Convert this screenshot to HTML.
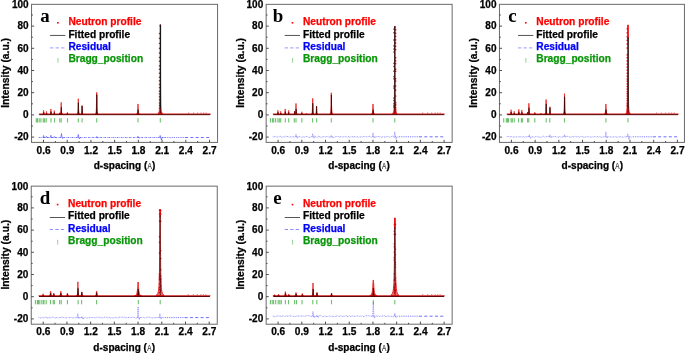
<!DOCTYPE html>
<html><head><meta charset="utf-8"><title>Neutron diffraction profiles</title>
<style>
html,body{margin:0;padding:0;background:#fff;}
body{width:685px;height:353px;overflow:hidden;font-family:"Liberation Sans",sans-serif;}
svg{display:block;will-change:transform;}
.t{font-family:"Liberation Sans",sans-serif;font-weight:bold;stroke-width:0.25px;}

</style></head><body>
<svg width="685" height="353" viewBox="0 0 685 353">
<rect width="685" height="353" fill="#fff"/>
<g transform="translate(0,0)">
<g transform="translate(0,0)">
<polygon points="42.83,114.10 42.88,114.06 42.97,113.99 43.05,113.89 43.12,113.76 43.18,113.62 43.23,113.45 43.27,113.27 43.31,113.08 43.34,112.86 43.37,112.64 43.40,112.39 43.42,112.14 43.44,111.87 43.47,111.59 43.49,111.30 43.51,110.99 43.54,110.68 43.60,110.35 43.60,110.35 43.66,110.68 43.69,110.99 43.71,111.30 43.73,111.59 43.76,111.87 43.78,112.14 43.80,112.39 43.83,112.64 43.86,112.86 43.89,113.08 43.93,113.27 43.97,113.45 44.02,113.62 44.08,113.76 44.15,113.89 44.23,113.99 44.32,114.06 44.37,114.10" fill="#e60000" stroke="#e60000" stroke-width="0.9" stroke-linejoin="round" opacity="0.85"/>
<polygon points="43.46,114.10 43.47,114.08 43.48,114.05 43.50,114.00 43.52,113.94 43.54,113.87 43.56,113.80 43.57,113.71 43.59,113.62 43.60,113.52 43.61,113.42 43.62,113.30 43.64,113.19 43.65,113.06 43.66,112.93 43.67,112.79 43.68,112.65 43.69,112.50 43.72,112.35 43.72,112.35 43.75,112.50 43.76,112.65 43.77,112.79 43.78,112.93 43.79,113.06 43.80,113.19 43.82,113.30 43.83,113.42 43.84,113.52 43.85,113.62 43.87,113.71 43.88,113.80 43.90,113.87 43.92,113.94 43.94,114.00 43.96,114.05 43.97,114.08 43.98,114.10" fill="#200000" stroke="#200000" stroke-width="0.62" stroke-linejoin="round"/>
<polygon points="45.85,114.10 45.88,114.07 45.94,114.02 46.00,113.95 46.06,113.86 46.10,113.76 46.15,113.64 46.19,113.52 46.22,113.38 46.25,113.23 46.28,113.07 46.30,112.89 46.32,112.71 46.35,112.53 46.37,112.33 46.39,112.12 46.41,111.91 46.44,111.68 46.50,111.45 46.50,111.45 46.56,111.68 46.59,111.91 46.61,112.12 46.63,112.33 46.65,112.53 46.68,112.71 46.70,112.89 46.72,113.07 46.75,113.23 46.78,113.38 46.81,113.52 46.85,113.64 46.90,113.76 46.94,113.86 47.00,113.95 47.06,114.02 47.12,114.07 47.15,114.10" fill="#e60000" stroke="#e60000" stroke-width="0.9" stroke-linejoin="round" opacity="0.85"/>
<polygon points="46.43,114.10 46.43,114.09 46.44,114.07 46.45,114.05 46.46,114.02 46.47,113.98 46.48,113.94 46.49,113.90 46.50,113.85 46.51,113.80 46.52,113.74 46.53,113.69 46.54,113.62 46.55,113.56 46.56,113.49 46.57,113.42 46.58,113.35 46.59,113.27 46.62,113.19 46.62,113.19 46.65,113.27 46.66,113.35 46.67,113.42 46.68,113.49 46.69,113.56 46.70,113.62 46.71,113.69 46.72,113.74 46.73,113.80 46.74,113.85 46.75,113.90 46.76,113.94 46.77,113.98 46.78,114.02 46.79,114.05 46.80,114.07 46.81,114.09 46.81,114.10" fill="#200000" stroke="#200000" stroke-width="0.62" stroke-linejoin="round"/>
<polygon points="49.99,114.10 50.08,114.05 50.20,113.95 50.30,113.81 50.39,113.64 50.46,113.44 50.51,113.21 50.56,112.96 50.60,112.69 50.63,112.40 50.66,112.09 50.69,111.76 50.72,111.41 50.74,111.04 50.76,110.66 50.79,110.25 50.81,109.83 50.84,109.40 50.90,108.95 50.90,108.95 50.96,109.40 50.99,109.83 51.01,110.25 51.04,110.66 51.06,111.04 51.08,111.41 51.11,111.76 51.14,112.09 51.17,112.40 51.20,112.69 51.24,112.96 51.29,113.21 51.34,113.44 51.41,113.64 51.50,113.81 51.60,113.95 51.72,114.05 51.81,114.10" fill="#e60000" stroke="#e60000" stroke-width="0.9" stroke-linejoin="round" opacity="0.85"/>
<polygon points="50.71,114.10 50.72,114.08 50.75,114.03 50.78,113.96 50.80,113.88 50.83,113.78 50.85,113.68 50.86,113.56 50.88,113.43 50.90,113.29 50.91,113.14 50.92,112.99 50.93,112.82 50.94,112.64 50.95,112.46 50.97,112.27 50.98,112.07 50.99,111.86 51.02,111.65 51.02,111.65 51.05,111.86 51.06,112.07 51.07,112.27 51.09,112.46 51.10,112.64 51.11,112.82 51.12,112.99 51.13,113.14 51.14,113.29 51.16,113.43 51.18,113.56 51.19,113.68 51.21,113.78 51.24,113.88 51.26,113.96 51.29,114.03 51.32,114.08 51.33,114.10" fill="#200000" stroke="#200000" stroke-width="0.62" stroke-linejoin="round"/>
<polygon points="53.56,114.10 53.61,114.07 53.68,114.00 53.76,113.90 53.83,113.79 53.88,113.66 53.93,113.51 53.97,113.34 54.01,113.16 54.04,112.96 54.07,112.75 54.10,112.53 54.12,112.30 54.14,112.05 54.17,111.79 54.19,111.52 54.21,111.24 54.24,110.95 54.30,110.65 54.30,110.65 54.36,110.95 54.39,111.24 54.41,111.52 54.43,111.79 54.46,112.05 54.48,112.30 54.50,112.53 54.53,112.75 54.56,112.96 54.59,113.16 54.63,113.34 54.67,113.51 54.72,113.66 54.77,113.79 54.84,113.90 54.92,114.00 54.99,114.07 55.04,114.10" fill="#e60000" stroke="#e60000" stroke-width="0.9" stroke-linejoin="round" opacity="0.85"/>
<polygon points="54.17,114.10 54.18,114.08 54.19,114.05 54.21,114.01 54.23,113.96 54.25,113.89 54.26,113.82 54.28,113.75 54.29,113.66 54.30,113.57 54.31,113.48 54.33,113.37 54.34,113.26 54.35,113.15 54.36,113.03 54.37,112.90 54.38,112.77 54.39,112.64 54.42,112.50 54.42,112.50 54.45,112.64 54.46,112.77 54.47,112.90 54.48,113.03 54.49,113.15 54.50,113.26 54.51,113.37 54.53,113.48 54.54,113.57 54.55,113.66 54.56,113.75 54.58,113.82 54.59,113.89 54.61,113.96 54.63,114.01 54.65,114.05 54.66,114.08 54.67,114.10" fill="#200000" stroke="#200000" stroke-width="0.62" stroke-linejoin="round"/>
<polygon points="59.35,114.10 59.37,114.09 59.39,114.06 59.42,114.03 59.45,113.99 59.47,113.94 59.50,113.88 59.53,113.82 59.55,113.76 59.58,113.69 59.60,113.61 59.62,113.53 59.64,113.45 59.66,113.36 59.68,113.26 59.70,113.17 59.72,113.06 59.74,112.96 59.80,112.85 59.80,112.85 59.86,112.96 59.88,113.06 59.90,113.17 59.92,113.26 59.94,113.36 59.96,113.45 59.98,113.53 60.00,113.61 60.02,113.69 60.05,113.76 60.07,113.82 60.10,113.88 60.13,113.94 60.15,113.99 60.18,114.03 60.21,114.06 60.23,114.09 60.25,114.10" fill="#e60000" stroke="#e60000" stroke-width="0.9" stroke-linejoin="round" opacity="0.85"/>
<polygon points="59.70,114.10 59.70,114.09 59.71,114.06 59.73,114.03 59.74,113.99 59.76,113.94 59.77,113.88 59.78,113.82 59.80,113.76 59.81,113.69 59.82,113.61 59.83,113.53 59.84,113.45 59.85,113.36 59.86,113.26 59.87,113.17 59.88,113.06 59.89,112.96 59.92,112.85 59.92,112.85 59.95,112.96 59.96,113.06 59.97,113.17 59.98,113.26 59.99,113.36 60.00,113.45 60.01,113.53 60.02,113.61 60.03,113.69 60.04,113.76 60.06,113.82 60.07,113.88 60.08,113.94 60.10,113.99 60.11,114.03 60.13,114.06 60.14,114.09 60.14,114.10" fill="#200000" stroke="#200000" stroke-width="0.62" stroke-linejoin="round"/>
<polygon points="59.83,114.10 60.07,113.99 60.33,113.75 60.51,113.44 60.63,113.05 60.72,112.60 60.79,112.09 60.84,111.53 60.89,110.92 60.92,110.26 60.96,109.55 60.99,108.80 61.01,108.01 61.04,107.18 61.06,106.31 61.09,105.40 61.11,104.45 61.14,103.47 61.20,102.45 61.20,102.45 61.26,103.47 61.29,104.45 61.31,105.40 61.34,106.31 61.36,107.18 61.39,108.01 61.41,108.80 61.44,109.55 61.48,110.26 61.51,110.92 61.56,111.53 61.61,112.09 61.68,112.60 61.77,113.05 61.89,113.44 62.07,113.75 62.33,113.99 62.57,114.10" fill="#e60000" stroke="#e60000" stroke-width="0.9" stroke-linejoin="round" opacity="0.85"/>
<polygon points="60.80,114.10 60.86,114.03 60.94,113.90 61.00,113.71 61.05,113.48 61.09,113.21 61.12,112.91 61.15,112.58 61.17,112.22 61.18,111.83 61.20,111.41 61.21,110.97 61.23,110.50 61.24,110.01 61.25,109.49 61.26,108.95 61.28,108.39 61.29,107.81 61.32,107.21 61.32,107.21 61.35,107.81 61.36,108.39 61.38,108.95 61.39,109.49 61.40,110.01 61.41,110.50 61.43,110.97 61.44,111.41 61.46,111.83 61.47,112.22 61.49,112.58 61.52,112.91 61.55,113.21 61.59,113.48 61.64,113.71 61.70,113.90 61.78,114.03 61.84,114.10" fill="#200000" stroke="#200000" stroke-width="0.62" stroke-linejoin="round"/>
<polygon points="66.87,114.10 66.89,114.08 66.93,114.05 66.97,114.00 67.00,113.94 67.04,113.87 67.08,113.80 67.11,113.71 67.14,113.62 67.16,113.52 67.19,113.42 67.21,113.30 67.23,113.19 67.25,113.06 67.27,112.93 67.29,112.79 67.32,112.65 67.34,112.50 67.40,112.35 67.40,112.35 67.46,112.50 67.48,112.65 67.51,112.79 67.53,112.93 67.55,113.06 67.57,113.19 67.59,113.30 67.61,113.42 67.64,113.52 67.66,113.62 67.69,113.71 67.72,113.80 67.76,113.87 67.80,113.94 67.83,114.00 67.87,114.05 67.91,114.08 67.93,114.10" fill="#e60000" stroke="#e60000" stroke-width="0.9" stroke-linejoin="round" opacity="0.85"/>
<polygon points="67.35,114.10 67.35,114.09 67.36,114.08 67.36,114.06 67.37,114.03 67.38,114.00 67.39,113.97 67.40,113.93 67.41,113.90 67.42,113.85 67.43,113.81 67.44,113.76 67.45,113.71 67.45,113.65 67.46,113.60 67.47,113.54 67.48,113.48 67.49,113.42 67.52,113.35 67.52,113.35 67.55,113.42 67.56,113.48 67.57,113.54 67.58,113.60 67.59,113.65 67.59,113.71 67.60,113.76 67.61,113.81 67.62,113.85 67.63,113.90 67.64,113.93 67.65,113.97 67.66,114.00 67.67,114.03 67.68,114.06 67.68,114.08 67.69,114.09 67.69,114.10" fill="#200000" stroke="#200000" stroke-width="0.62" stroke-linejoin="round"/>
<polygon points="76.80,114.10 77.07,113.95 77.38,113.64 77.58,113.23 77.72,112.72 77.81,112.12 77.88,111.45 77.94,110.71 77.98,109.91 78.02,109.04 78.06,108.11 78.08,107.12 78.11,106.08 78.14,104.98 78.16,103.83 78.18,102.63 78.21,101.39 78.24,100.09 78.30,98.75 78.30,98.75 78.36,100.09 78.39,101.39 78.42,102.63 78.44,103.83 78.46,104.98 78.49,106.08 78.52,107.12 78.54,108.11 78.58,109.04 78.62,109.91 78.66,110.71 78.72,111.45 78.79,112.12 78.88,112.72 79.02,113.23 79.22,113.64 79.53,113.95 79.80,114.10" fill="#e60000" stroke="#e60000" stroke-width="0.9" stroke-linejoin="round" opacity="0.85"/>
<polygon points="77.74,114.10 77.86,113.99 77.99,113.76 78.07,113.45 78.13,113.07 78.18,112.63 78.21,112.13 78.24,111.57 78.26,110.97 78.28,110.32 78.30,109.63 78.31,108.89 78.33,108.12 78.34,107.30 78.35,106.44 78.36,105.55 78.38,104.62 78.39,103.65 78.42,102.65 78.42,102.65 78.45,103.65 78.46,104.62 78.48,105.55 78.49,106.44 78.50,107.30 78.51,108.12 78.53,108.89 78.54,109.63 78.56,110.32 78.58,110.97 78.60,111.57 78.63,112.13 78.66,112.63 78.71,113.07 78.77,113.45 78.85,113.76 78.98,113.99 79.10,114.10" fill="#200000" stroke="#200000" stroke-width="0.62" stroke-linejoin="round"/>
<polygon points="80.83,114.10 80.99,114.02 81.19,113.85 81.34,113.61 81.45,113.33 81.53,113.00 81.59,112.63 81.65,112.21 81.69,111.76 81.73,111.28 81.76,110.76 81.79,110.21 81.81,109.63 81.84,109.02 81.86,108.38 81.89,107.71 81.91,107.02 81.94,106.30 82.00,105.55 82.00,105.55 82.06,106.30 82.09,107.02 82.11,107.71 82.14,108.38 82.16,109.02 82.19,109.63 82.21,110.21 82.24,110.76 82.27,111.28 82.31,111.76 82.35,112.21 82.41,112.63 82.47,113.00 82.55,113.33 82.66,113.61 82.81,113.85 83.01,114.02 83.17,114.10" fill="#e60000" stroke="#e60000" stroke-width="0.9" stroke-linejoin="round" opacity="0.85"/>
<polygon points="81.55,114.10 81.63,114.02 81.72,113.86 81.79,113.64 81.85,113.37 81.89,113.06 81.92,112.70 81.94,112.31 81.97,111.88 81.98,111.42 82.00,110.93 82.01,110.41 82.03,109.86 82.04,109.28 82.05,108.68 82.06,108.04 82.08,107.38 82.09,106.70 82.12,105.99 82.12,105.99 82.15,106.70 82.16,107.38 82.18,108.04 82.19,108.68 82.20,109.28 82.21,109.86 82.23,110.41 82.24,110.93 82.26,111.42 82.27,111.88 82.30,112.31 82.32,112.70 82.35,113.06 82.39,113.37 82.45,113.64 82.52,113.86 82.61,114.02 82.69,114.10" fill="#200000" stroke="#200000" stroke-width="0.62" stroke-linejoin="round"/>
<polygon points="95.20,114.10 95.34,113.89 95.73,113.45 95.96,112.86 96.10,112.14 96.20,111.30 96.28,110.35 96.33,109.30 96.38,108.16 96.42,106.93 96.45,105.61 96.48,104.21 96.51,102.73 96.54,101.18 96.56,99.55 96.58,97.85 96.61,96.09 96.64,94.25 96.70,92.35 96.70,92.35 96.76,94.25 96.79,96.09 96.82,97.85 96.84,99.55 96.86,101.18 96.89,102.73 96.92,104.21 96.95,105.61 96.98,106.93 97.02,108.16 97.07,109.30 97.12,110.35 97.20,111.30 97.30,112.14 97.44,112.86 97.67,113.45 98.06,113.89 98.20,114.10" fill="#e60000" stroke="#e60000" stroke-width="0.9" stroke-linejoin="round" opacity="0.85"/>
<polygon points="95.94,114.10 96.16,113.91 96.34,113.52 96.45,112.99 96.52,112.34 96.57,111.58 96.61,110.73 96.64,109.79 96.66,108.76 96.68,107.65 96.70,106.47 96.71,105.21 96.73,103.88 96.74,102.48 96.75,101.02 96.76,99.50 96.77,97.91 96.79,96.26 96.82,94.55 96.82,94.55 96.85,96.26 96.87,97.91 96.88,99.50 96.89,101.02 96.90,102.48 96.91,103.88 96.93,105.21 96.94,106.47 96.96,107.65 96.98,108.76 97.00,109.79 97.03,110.73 97.07,111.58 97.12,112.34 97.19,112.99 97.30,113.52 97.48,113.91 97.70,114.10" fill="#200000" stroke="#200000" stroke-width="0.62" stroke-linejoin="round"/>
<polygon points="136.50,114.10 136.50,114.00 136.73,113.80 136.98,113.52 137.16,113.19 137.29,112.79 137.39,112.35 137.47,111.86 137.53,111.33 137.59,110.75 137.64,110.14 137.68,109.48 137.72,108.79 137.76,108.07 137.79,107.31 137.83,106.52 137.87,105.69 137.91,104.84 138.00,103.95 138.00,103.95 138.09,104.84 138.13,105.69 138.17,106.52 138.21,107.31 138.24,108.07 138.28,108.79 138.32,109.48 138.36,110.14 138.41,110.75 138.47,111.33 138.53,111.86 138.61,112.35 138.71,112.79 138.84,113.19 139.02,113.52 139.27,113.80 139.50,114.00 139.50,114.10" fill="#e60000" stroke="#e60000" stroke-width="0.9" stroke-linejoin="round" opacity="0.85"/>
<polygon points="137.70,114.10 137.73,114.06 137.78,113.97 137.83,113.85 137.87,113.70 137.90,113.53 137.93,113.34 137.95,113.12 137.97,112.89 137.99,112.64 138.00,112.37 138.02,112.09 138.03,111.78 138.04,111.47 138.05,111.14 138.06,110.79 138.08,110.43 138.09,110.06 138.12,109.67 138.12,109.67 138.15,110.06 138.16,110.43 138.18,110.79 138.19,111.14 138.20,111.47 138.21,111.78 138.22,112.09 138.24,112.37 138.25,112.64 138.27,112.89 138.29,113.12 138.31,113.34 138.34,113.53 138.37,113.70 138.41,113.85 138.46,113.97 138.51,114.06 138.54,114.10" fill="#200000" stroke="#200000" stroke-width="0.62" stroke-linejoin="round"/>
<polygon points="157.90,114.10 158.35,113.22 159.10,111.44 159.43,109.01 159.61,106.04 159.73,102.58 159.82,98.68 159.89,94.36 159.94,89.66 159.99,84.59 160.03,79.17 160.06,73.42 160.09,67.34 160.12,60.96 160.15,54.27 160.17,47.28 160.20,40.01 160.23,32.47 160.30,24.65 160.30,24.65 160.37,32.47 160.40,40.01 160.43,47.28 160.45,54.27 160.48,60.96 160.51,67.34 160.54,73.42 160.57,79.17 160.61,84.59 160.66,89.66 160.71,94.36 160.78,98.68 160.87,102.58 160.99,106.04 161.17,109.01 161.50,111.44 162.25,113.22 162.70,114.10" fill="#e00000" fill-opacity="1" stroke="#e00000" stroke-width="0.6" stroke-linejoin="round" opacity="0.9"/>
<g fill="#ee0000"><rect x="158.85" y="107.69" width="1.4" height="1.4"/><rect x="158.85" y="104.74" width="1.4" height="1.4"/><rect x="158.85" y="102.39" width="1.4" height="1.4"/><rect x="158.85" y="99.06" width="1.4" height="1.4"/><rect x="158.85" y="96.09" width="1.4" height="1.4"/><rect x="158.85" y="93.23" width="1.4" height="1.4"/><rect x="158.85" y="90.52" width="1.4" height="1.4"/><rect x="158.85" y="86.89" width="1.4" height="1.4"/><rect x="158.85" y="83.71" width="1.4" height="1.4"/><rect x="158.85" y="80.06" width="1.4" height="1.4"/><rect x="158.85" y="76.55" width="1.4" height="1.4"/><rect x="158.85" y="72.52" width="1.4" height="1.4"/><rect x="158.85" y="68.59" width="1.4" height="1.4"/><rect x="158.85" y="65.14" width="1.4" height="1.4"/><rect x="158.85" y="60.54" width="1.4" height="1.4"/><rect x="158.85" y="56.78" width="1.4" height="1.4"/><rect x="158.85" y="52.38" width="1.4" height="1.4"/><rect x="158.85" y="47.64" width="1.4" height="1.4"/><rect x="158.85" y="42.73" width="1.4" height="1.4"/><rect x="158.85" y="37.68" width="1.4" height="1.4"/><rect x="158.85" y="32.85" width="1.4" height="1.4"/></g>
<rect x="159.65" y="24.65" width="1.3" height="2.00" fill="#e80000"/>
<rect x="159.85" y="24.65" width="1.25" height="83.70" fill="#161616"/>
<rect x="160.10" y="107.85" width="0.7" height="5.5" fill="#400000"/>
<rect x="38.8" y="113.55" width="171.90" height="0.9" fill="#d40000"/>
<rect x="39.3" y="114.15" width="170.90" height="1.0" fill="#560000"/>
<rect x="188" y="112.65" width="1.3" height="0.7" fill="#e00000" opacity="0.7"/>
<rect x="193" y="112.65" width="1.3" height="0.7" fill="#e00000" opacity="0.7"/>
<rect x="197" y="112.65" width="1.3" height="0.7" fill="#e00000" opacity="0.7"/>
<rect x="200.5" y="112.65" width="1.3" height="0.7" fill="#e00000" opacity="0.7"/>
<rect x="203" y="112.65" width="1.3" height="0.7" fill="#e00000" opacity="0.7"/>
<rect x="205.5" y="112.65" width="1.3" height="0.7" fill="#e00000" opacity="0.7"/>
<rect x="35.75" y="118.2" width="1.1" height="4.3" fill="#2fa52f" opacity="0.7"/>
<rect x="36.95" y="118.2" width="1.1" height="4.3" fill="#2fa52f" opacity="0.7"/>
<rect x="38.65" y="118.2" width="1.1" height="4.3" fill="#2fa52f" opacity="0.7"/>
<rect x="40.35" y="118.2" width="1.1" height="4.3" fill="#2fa52f" opacity="0.7"/>
<rect x="42.75" y="118.2" width="1.1" height="4.3" fill="#2fa52f" opacity="0.7"/>
<rect x="44.05" y="118.2" width="1.1" height="4.3" fill="#2fa52f" opacity="0.7"/>
<rect x="45.65" y="118.2" width="1.1" height="4.3" fill="#2fa52f" opacity="0.7"/>
<rect x="50.45" y="118.2" width="1.1" height="4.3" fill="#2fa52f" opacity="0.7"/>
<rect x="53.95" y="118.2" width="1.1" height="4.3" fill="#2fa52f" opacity="0.7"/>
<rect x="59.25" y="118.2" width="1.1" height="4.3" fill="#2fa52f" opacity="0.7"/>
<rect x="60.65" y="118.2" width="1.1" height="4.3" fill="#2fa52f" opacity="0.7"/>
<rect x="66.95" y="118.2" width="1.1" height="4.3" fill="#2fa52f" opacity="0.7"/>
<rect x="77.75" y="118.2" width="1.1" height="4.3" fill="#2fa52f" opacity="0.7"/>
<rect x="81.55" y="118.2" width="1.1" height="4.3" fill="#2fa52f" opacity="0.7"/>
<rect x="96.15" y="118.2" width="1.1" height="4.3" fill="#2fa52f" opacity="0.7"/>
<rect x="137.45" y="118.2" width="1.1" height="4.3" fill="#2fa52f" opacity="0.7"/>
<rect x="159.75" y="118.2" width="1.1" height="4.3" fill="#2fa52f" opacity="0.7"/>
<path d="M38.8,137.5 H165" fill="none" stroke="#4a4aff" stroke-width="0.95" stroke-dasharray="1.7 0.9 0.6 0.9" opacity="0.8"/>
<path d="M42.90,137.5 L43.60,135.50 L44.15,137.5 L44.80,137.50 L45.50,137.5 M45.80,137.5 L46.50,136.30 L47.05,137.5 L47.70,137.50 L48.40,137.5 M50.20,137.5 L50.90,135.30 L51.45,137.5 L52.10,137.50 L52.80,137.5 M53.60,137.5 L54.30,136.50 L54.85,137.5 L55.50,137.50 L56.20,137.5 M60.80,137.5 L61.50,133.50 L62.05,137.5 L62.70,138.50 L63.40,137.5 M77.60,137.5 L78.30,134.50 L78.85,137.5 L79.50,139.00 L80.20,137.5 M96.00,137.5 L96.70,136.50 L97.25,137.5 L97.90,138.00 L98.60,137.5 M137.30,137.5 L138.00,136.30 L138.55,137.5 L139.20,138.00 L139.90,137.5 M159.50,137.5 L160.20,135.50 L160.75,137.5 L161.40,140.00 L162.10,137.5" fill="none" stroke="#4a4aff" stroke-width="0.75" opacity="0.85" stroke-dasharray="none" stroke-linejoin="round"/>
<path d="M165,137.5 H185" stroke="#4a4aff" stroke-width="0.95" stroke-dasharray="1.2 1.0" opacity="0.75" fill="none"/>
<path d="M185,137.5 H211.2" stroke="#4a4aff" stroke-width="1" stroke-dasharray="3 2.3" opacity="0.8" fill="none"/>
</g>
<rect x="31.55" y="4.35" width="186.00" height="138.05" fill="none" stroke="#6a6a6a" stroke-width="1"/>
<path d="M31.55,137.10h2.6 M31.55,126.00h1.4 M31.55,114.90h2.6 M31.55,103.80h1.4 M31.55,92.70h2.6 M31.55,81.60h1.4 M31.55,70.50h2.6 M31.55,59.40h1.4 M31.55,48.30h2.6 M31.55,37.20h1.4 M31.55,26.10h2.6 M31.55,15.00h1.4 M43.50,142.4v-2.6 M55.36,142.4v-1.4 M67.22,142.4v-2.6 M79.07,142.4v-1.4 M90.93,142.4v-2.6 M102.79,142.4v-1.4 M114.64,142.4v-2.6 M126.50,142.4v-1.4 M138.36,142.4v-2.6 M150.22,142.4v-1.4 M162.07,142.4v-2.6 M173.93,142.4v-1.4 M185.79,142.4v-2.6 M197.65,142.4v-1.4 M209.50,142.4v-2.6" stroke="#3a3a3a" stroke-width="0.9" fill="none"/>
<text x="28.6" y="140.45" text-anchor="end" class="t" font-size="10.0" stroke="#000">-20</text>
<text x="28.6" y="118.25" text-anchor="end" class="t" font-size="10.0" stroke="#000">0</text>
<text x="28.6" y="96.05" text-anchor="end" class="t" font-size="10.0" stroke="#000">20</text>
<text x="28.6" y="73.85" text-anchor="end" class="t" font-size="10.0" stroke="#000">40</text>
<text x="28.6" y="51.65" text-anchor="end" class="t" font-size="10.0" stroke="#000">60</text>
<text x="28.6" y="29.45" text-anchor="end" class="t" font-size="10.0" stroke="#000">80</text>
<text x="28.6" y="8.05" text-anchor="end" class="t" font-size="10.0" stroke="#000">100</text>
<text x="43.60" y="153.6" text-anchor="middle" class="t" font-size="10.15" stroke="#000">0.6</text>
<text x="67.31" y="153.6" text-anchor="middle" class="t" font-size="10.15" stroke="#000">0.9</text>
<text x="91.03" y="153.6" text-anchor="middle" class="t" font-size="10.15" stroke="#000">1.2</text>
<text x="114.74" y="153.6" text-anchor="middle" class="t" font-size="10.15" stroke="#000">1.5</text>
<text x="138.46" y="153.6" text-anchor="middle" class="t" font-size="10.15" stroke="#000">1.8</text>
<text x="162.17" y="153.6" text-anchor="middle" class="t" font-size="10.15" stroke="#000">2.1</text>
<text x="185.89" y="153.6" text-anchor="middle" class="t" font-size="10.15" stroke="#000">2.4</text>
<text x="209.60" y="153.6" text-anchor="middle" class="t" font-size="10.15" stroke="#000">2.7</text>
<text x="124.5" y="169.2" text-anchor="middle" class="t" font-size="10.05" stroke="#000">d-spacing (<tspan font-weight="normal" font-size="8.2" fill="#333" stroke="#333" stroke-width="0.15" textLength="4.3" lengthAdjust="spacingAndGlyphs" dx="0.2">A</tspan><tspan dx="0.2">)</tspan></text>
<text transform="translate(9.4,72.9) rotate(-90)" text-anchor="middle" class="t" font-size="10.3" stroke="#000">Intensity (a.u.)</text>
<text x="40.30" y="22.0" font-family="Liberation Serif, serif" font-weight="bold" font-size="18.9">a</text>
<text x="68.4" y="25.25" class="t" font-size="10.2" fill="#ff0000" stroke="#ff0000">Neutron profile</text>
<text x="68.4" y="37.5" class="t" font-size="10.2" fill="#000" stroke="#000">Fitted profile</text>
<text x="68.4" y="49.85" class="t" font-size="10.2" fill="#0000ff" stroke="#0000ff">Residual</text>
<text x="68.4" y="62.25" class="t" font-size="10.2" fill="#0a960a" stroke="#0a960a">Bragg_position</text>
<rect x="57.1" y="22.0" width="1.6" height="1.6" fill="#ff0000"/>
<path d="M50.1,35.45 H65.4" stroke="#2a2a2a" stroke-width="0.8"/>
<path d="M50.1,47.9 H65.4" stroke="#a4a4ff" stroke-width="1.15" stroke-dasharray="3.3 2.2" opacity="0.9"/>
<rect x="57.5" y="58" width="1" height="4.8" fill="#7cc47c" opacity="0.8"/>
</g>
<g transform="translate(234.6,0)">
<g transform="translate(-0.6,0)">
<polygon points="43.13,114.10 43.18,114.06 43.27,113.99 43.35,113.89 43.42,113.76 43.48,113.62 43.53,113.45 43.57,113.27 43.61,113.08 43.64,112.86 43.67,112.64 43.70,112.39 43.72,112.14 43.74,111.87 43.77,111.59 43.79,111.30 43.81,110.99 43.84,110.68 43.90,110.35 43.90,110.35 43.96,110.68 43.99,110.99 44.01,111.30 44.03,111.59 44.06,111.87 44.08,112.14 44.10,112.39 44.13,112.64 44.16,112.86 44.19,113.08 44.23,113.27 44.27,113.45 44.32,113.62 44.38,113.76 44.45,113.89 44.53,113.99 44.62,114.06 44.67,114.10" fill="#e60000" stroke="#e60000" stroke-width="0.9" stroke-linejoin="round" opacity="0.85"/>
<polygon points="43.76,114.10 43.77,114.08 43.78,114.05 43.80,114.00 43.82,113.94 43.84,113.87 43.86,113.80 43.87,113.71 43.89,113.62 43.90,113.52 43.91,113.42 43.92,113.30 43.94,113.19 43.95,113.06 43.96,112.93 43.97,112.79 43.98,112.65 43.99,112.50 44.02,112.35 44.02,112.35 44.05,112.50 44.06,112.65 44.07,112.79 44.08,112.93 44.09,113.06 44.10,113.19 44.12,113.30 44.13,113.42 44.14,113.52 44.15,113.62 44.17,113.71 44.18,113.80 44.20,113.87 44.22,113.94 44.24,114.00 44.26,114.05 44.27,114.08 44.28,114.10" fill="#200000" stroke="#200000" stroke-width="0.62" stroke-linejoin="round"/>
<polygon points="46.04,114.10 46.07,114.07 46.13,114.02 46.19,113.94 46.25,113.85 46.30,113.75 46.35,113.63 46.38,113.49 46.42,113.35 46.45,113.19 46.47,113.03 46.50,112.85 46.52,112.66 46.55,112.47 46.57,112.26 46.59,112.05 46.61,111.82 46.64,111.59 46.70,111.35 46.70,111.35 46.76,111.59 46.79,111.82 46.81,112.05 46.83,112.26 46.85,112.47 46.88,112.66 46.90,112.85 46.93,113.03 46.95,113.19 46.98,113.35 47.02,113.49 47.05,113.63 47.10,113.75 47.15,113.85 47.21,113.94 47.27,114.02 47.33,114.07 47.36,114.10" fill="#e60000" stroke="#e60000" stroke-width="0.9" stroke-linejoin="round" opacity="0.85"/>
<polygon points="46.63,114.10 46.63,114.09 46.64,114.07 46.65,114.05 46.66,114.01 46.67,113.98 46.68,113.94 46.69,113.89 46.70,113.84 46.71,113.79 46.72,113.73 46.73,113.67 46.74,113.60 46.75,113.54 46.76,113.46 46.77,113.39 46.78,113.31 46.79,113.23 46.82,113.15 46.82,113.15 46.85,113.23 46.86,113.31 46.87,113.39 46.88,113.46 46.89,113.54 46.90,113.60 46.91,113.67 46.92,113.73 46.93,113.79 46.94,113.84 46.95,113.89 46.96,113.94 46.97,113.98 46.98,114.01 46.99,114.05 47.00,114.07 47.01,114.09 47.01,114.10" fill="#200000" stroke="#200000" stroke-width="0.62" stroke-linejoin="round"/>
<polygon points="50.29,114.10 50.38,114.05 50.50,113.95 50.60,113.81 50.69,113.64 50.76,113.44 50.81,113.21 50.86,112.96 50.90,112.69 50.93,112.40 50.96,112.09 50.99,111.76 51.02,111.41 51.04,111.04 51.06,110.66 51.09,110.25 51.11,109.83 51.14,109.40 51.20,108.95 51.20,108.95 51.26,109.40 51.29,109.83 51.31,110.25 51.34,110.66 51.36,111.04 51.38,111.41 51.41,111.76 51.44,112.09 51.47,112.40 51.50,112.69 51.54,112.96 51.59,113.21 51.64,113.44 51.71,113.64 51.80,113.81 51.90,113.95 52.02,114.05 52.11,114.10" fill="#e60000" stroke="#e60000" stroke-width="0.9" stroke-linejoin="round" opacity="0.85"/>
<polygon points="51.01,114.10 51.02,114.08 51.05,114.03 51.08,113.96 51.10,113.88 51.13,113.78 51.15,113.68 51.16,113.56 51.18,113.43 51.20,113.29 51.21,113.14 51.22,112.99 51.23,112.82 51.24,112.64 51.25,112.46 51.27,112.27 51.28,112.07 51.29,111.86 51.32,111.65 51.32,111.65 51.35,111.86 51.36,112.07 51.37,112.27 51.39,112.46 51.40,112.64 51.41,112.82 51.42,112.99 51.43,113.14 51.44,113.29 51.46,113.43 51.48,113.56 51.49,113.68 51.51,113.78 51.54,113.88 51.56,113.96 51.59,114.03 51.62,114.08 51.63,114.10" fill="#200000" stroke="#200000" stroke-width="0.62" stroke-linejoin="round"/>
<polygon points="53.83,114.10 53.88,114.06 53.97,113.99 54.05,113.89 54.12,113.76 54.18,113.62 54.23,113.45 54.27,113.27 54.31,113.08 54.34,112.86 54.37,112.64 54.40,112.39 54.42,112.14 54.44,111.87 54.47,111.59 54.49,111.30 54.51,110.99 54.54,110.68 54.60,110.35 54.60,110.35 54.66,110.68 54.69,110.99 54.71,111.30 54.73,111.59 54.76,111.87 54.78,112.14 54.80,112.39 54.83,112.64 54.86,112.86 54.89,113.08 54.93,113.27 54.97,113.45 55.02,113.62 55.08,113.76 55.15,113.89 55.23,113.99 55.32,114.06 55.37,114.10" fill="#e60000" stroke="#e60000" stroke-width="0.9" stroke-linejoin="round" opacity="0.85"/>
<polygon points="54.46,114.10 54.47,114.08 54.48,114.05 54.50,114.00 54.52,113.94 54.54,113.87 54.56,113.80 54.57,113.71 54.59,113.62 54.60,113.52 54.61,113.42 54.62,113.30 54.64,113.19 54.65,113.06 54.66,112.93 54.67,112.79 54.68,112.65 54.69,112.50 54.72,112.35 54.72,112.35 54.75,112.50 54.76,112.65 54.77,112.79 54.78,112.93 54.79,113.06 54.80,113.19 54.82,113.30 54.83,113.42 54.84,113.52 54.85,113.62 54.87,113.71 54.88,113.80 54.90,113.87 54.92,113.94 54.94,114.00 54.96,114.05 54.97,114.08 54.98,114.10" fill="#200000" stroke="#200000" stroke-width="0.62" stroke-linejoin="round"/>
<polygon points="59.94,114.10 59.97,114.07 60.03,114.02 60.09,113.94 60.15,113.85 60.20,113.75 60.25,113.63 60.28,113.49 60.32,113.35 60.35,113.19 60.37,113.03 60.40,112.85 60.42,112.66 60.45,112.47 60.47,112.26 60.49,112.05 60.51,111.82 60.54,111.59 60.60,111.35 60.60,111.35 60.66,111.59 60.69,111.82 60.71,112.05 60.73,112.26 60.75,112.47 60.78,112.66 60.80,112.85 60.83,113.03 60.85,113.19 60.88,113.35 60.92,113.49 60.95,113.63 61.00,113.75 61.05,113.85 61.11,113.94 61.17,114.02 61.23,114.07 61.26,114.10" fill="#e60000" stroke="#e60000" stroke-width="0.9" stroke-linejoin="round" opacity="0.85"/>
<polygon points="60.39,114.10 60.41,114.07 60.44,114.02 60.47,113.94 60.50,113.85 60.52,113.75 60.54,113.63 60.56,113.49 60.58,113.35 60.59,113.19 60.61,113.03 60.62,112.85 60.63,112.66 60.64,112.47 60.65,112.26 60.67,112.05 60.68,111.82 60.69,111.59 60.72,111.35 60.72,111.35 60.75,111.59 60.76,111.82 60.77,112.05 60.79,112.26 60.80,112.47 60.81,112.66 60.82,112.85 60.83,113.03 60.85,113.19 60.86,113.35 60.88,113.49 60.90,113.63 60.92,113.75 60.94,113.85 60.97,113.94 61.00,114.02 61.03,114.07 61.05,114.10" fill="#200000" stroke="#200000" stroke-width="0.62" stroke-linejoin="round"/>
<polygon points="60.69,114.10 60.91,114.00 61.15,113.78 61.31,113.49 61.43,113.14 61.52,112.73 61.59,112.26 61.64,111.75 61.69,111.19 61.72,110.59 61.76,109.94 61.79,109.26 61.81,108.53 61.84,107.77 61.86,106.98 61.89,106.14 61.91,105.28 61.94,104.38 62.00,103.45 62.00,103.45 62.06,104.38 62.09,105.28 62.11,106.14 62.14,106.98 62.16,107.77 62.19,108.53 62.21,109.26 62.24,109.94 62.28,110.59 62.31,111.19 62.36,111.75 62.41,112.26 62.48,112.73 62.57,113.14 62.69,113.49 62.85,113.78 63.09,114.00 63.31,114.10" fill="#e60000" stroke="#e60000" stroke-width="0.9" stroke-linejoin="round" opacity="0.85"/>
<polygon points="61.66,114.10 61.71,114.05 61.77,113.95 61.82,113.80 61.86,113.63 61.90,113.43 61.93,113.20 61.95,112.95 61.97,112.68 61.99,112.38 62.00,112.07 62.02,111.74 62.03,111.38 62.04,111.01 62.05,110.62 62.06,110.22 62.08,109.79 62.09,109.35 62.12,108.90 62.12,108.90 62.15,109.35 62.16,109.79 62.18,110.22 62.19,110.62 62.20,111.01 62.21,111.38 62.22,111.74 62.24,112.07 62.25,112.38 62.27,112.68 62.29,112.95 62.31,113.20 62.34,113.43 62.38,113.63 62.42,113.80 62.47,113.95 62.53,114.05 62.58,114.10" fill="#200000" stroke="#200000" stroke-width="0.62" stroke-linejoin="round"/>
<polygon points="67.20,114.10 67.23,114.08 67.28,114.03 67.33,113.97 67.37,113.90 67.42,113.81 67.46,113.71 67.49,113.60 67.52,113.49 67.55,113.36 67.58,113.22 67.60,113.08 67.63,112.92 67.65,112.76 67.67,112.59 67.69,112.42 67.71,112.24 67.74,112.05 67.80,111.85 67.80,111.85 67.86,112.05 67.89,112.24 67.91,112.42 67.93,112.59 67.95,112.76 67.97,112.92 68.00,113.08 68.02,113.22 68.05,113.36 68.08,113.49 68.11,113.60 68.14,113.71 68.18,113.81 68.23,113.90 68.27,113.97 68.32,114.03 68.37,114.08 68.40,114.10" fill="#e60000" stroke="#e60000" stroke-width="0.9" stroke-linejoin="round" opacity="0.85"/>
<polygon points="67.75,114.10 67.75,114.09 67.76,114.08 67.76,114.06 67.77,114.03 67.78,114.00 67.79,113.97 67.80,113.93 67.81,113.90 67.82,113.85 67.83,113.81 67.84,113.76 67.85,113.71 67.85,113.65 67.86,113.60 67.87,113.54 67.88,113.48 67.89,113.42 67.92,113.35 67.92,113.35 67.95,113.42 67.96,113.48 67.97,113.54 67.98,113.60 67.99,113.65 67.99,113.71 68.00,113.76 68.01,113.81 68.02,113.85 68.03,113.90 68.04,113.93 68.05,113.97 68.06,114.00 68.07,114.03 68.08,114.06 68.08,114.08 68.09,114.09 68.09,114.10" fill="#200000" stroke="#200000" stroke-width="0.62" stroke-linejoin="round"/>
<polygon points="72.15,114.10 72.16,114.09 72.17,114.08 72.19,114.06 72.21,114.03 72.23,114.00 72.24,113.97 72.26,113.93 72.28,113.90 72.30,113.85 72.32,113.81 72.33,113.76 72.35,113.71 72.37,113.65 72.39,113.60 72.40,113.54 72.42,113.48 72.45,113.42 72.50,113.35 72.50,113.35 72.55,113.42 72.58,113.48 72.60,113.54 72.61,113.60 72.63,113.65 72.65,113.71 72.67,113.76 72.68,113.81 72.70,113.85 72.72,113.90 72.74,113.93 72.76,113.97 72.77,114.00 72.79,114.03 72.81,114.06 72.83,114.08 72.84,114.09 72.85,114.10" fill="#e60000" stroke="#e60000" stroke-width="0.9" stroke-linejoin="round" opacity="0.85"/>
<polygon points="72.58,114.10 72.58,114.10 72.58,114.10 72.58,114.10 72.58,114.10 72.58,114.09 72.58,114.09 72.58,114.09 72.58,114.09 72.58,114.08 72.59,114.08 72.59,114.08 72.59,114.07 72.59,114.07 72.60,114.07 72.60,114.06 72.60,114.06 72.61,114.05 72.62,114.05 72.62,114.05 72.63,114.05 72.64,114.06 72.64,114.06 72.64,114.07 72.65,114.07 72.65,114.07 72.65,114.08 72.65,114.08 72.66,114.08 72.66,114.09 72.66,114.09 72.66,114.09 72.66,114.09 72.66,114.10 72.66,114.10 72.66,114.10 72.66,114.10 72.66,114.10" fill="#200000" stroke="#200000" stroke-width="0.62" stroke-linejoin="round"/>
<polygon points="77.20,114.10 77.46,113.95 77.78,113.63 77.98,113.20 78.11,112.68 78.21,112.07 78.28,111.38 78.34,110.62 78.38,109.80 78.42,108.90 78.46,107.95 78.48,106.94 78.51,105.87 78.54,104.74 78.56,103.56 78.58,102.34 78.61,101.06 78.64,99.73 78.70,98.35 78.70,98.35 78.76,99.73 78.79,101.06 78.82,102.34 78.84,103.56 78.86,104.74 78.89,105.87 78.92,106.94 78.94,107.95 78.98,108.90 79.02,109.80 79.06,110.62 79.12,111.38 79.19,112.07 79.29,112.68 79.42,113.20 79.62,113.63 79.94,113.95 80.20,114.10" fill="#e60000" stroke="#e60000" stroke-width="0.9" stroke-linejoin="round" opacity="0.85"/>
<polygon points="78.16,114.10 78.27,113.99 78.39,113.77 78.48,113.48 78.54,113.11 78.58,112.69 78.61,112.21 78.64,111.68 78.66,111.11 78.68,110.49 78.70,109.82 78.71,109.12 78.73,108.38 78.74,107.59 78.75,106.78 78.76,105.92 78.78,105.03 78.79,104.11 78.82,103.15 78.82,103.15 78.85,104.11 78.86,105.03 78.88,105.92 78.89,106.78 78.90,107.59 78.91,108.38 78.93,109.12 78.94,109.82 78.96,110.49 78.98,111.11 79.00,111.68 79.03,112.21 79.06,112.69 79.10,113.11 79.16,113.48 79.25,113.77 79.37,113.99 79.48,114.10" fill="#200000" stroke="#200000" stroke-width="0.62" stroke-linejoin="round"/>
<polygon points="81.39,114.10 81.53,114.02 81.71,113.87 81.85,113.66 81.95,113.40 82.03,113.10 82.10,112.76 82.15,112.39 82.19,111.98 82.23,111.54 82.26,111.07 82.29,110.58 82.31,110.05 82.34,109.50 82.36,108.92 82.39,108.31 82.41,107.68 82.44,107.03 82.50,106.35 82.50,106.35 82.56,107.03 82.59,107.68 82.61,108.31 82.64,108.92 82.66,109.50 82.69,110.05 82.71,110.58 82.74,111.07 82.77,111.54 82.81,111.98 82.85,112.39 82.90,112.76 82.97,113.10 83.05,113.40 83.15,113.66 83.29,113.87 83.47,114.02 83.61,114.10" fill="#e60000" stroke="#e60000" stroke-width="0.9" stroke-linejoin="round" opacity="0.85"/>
<polygon points="82.06,114.10 82.13,114.02 82.22,113.87 82.29,113.66 82.35,113.40 82.39,113.10 82.42,112.76 82.44,112.39 82.47,111.98 82.48,111.54 82.50,111.07 82.51,110.58 82.53,110.05 82.54,109.50 82.55,108.92 82.56,108.31 82.58,107.68 82.59,107.03 82.62,106.35 82.62,106.35 82.65,107.03 82.66,107.68 82.68,108.31 82.69,108.92 82.70,109.50 82.71,110.05 82.73,110.58 82.74,111.07 82.76,111.54 82.77,111.98 82.80,112.39 82.82,112.76 82.85,113.10 82.89,113.40 82.95,113.66 83.02,113.87 83.11,114.02 83.18,114.10" fill="#200000" stroke="#200000" stroke-width="0.62" stroke-linejoin="round"/>
<polygon points="95.80,114.10 95.94,113.89 96.33,113.47 96.56,112.89 96.70,112.18 96.80,111.35 96.88,110.42 96.93,109.39 96.98,108.27 97.02,107.06 97.05,105.76 97.08,104.39 97.11,102.94 97.14,101.42 97.16,99.82 97.18,98.15 97.21,96.42 97.24,94.62 97.30,92.75 97.30,92.75 97.36,94.62 97.39,96.42 97.42,98.15 97.44,99.82 97.46,101.42 97.49,102.94 97.52,104.39 97.55,105.76 97.58,107.06 97.62,108.27 97.67,109.39 97.72,110.42 97.80,111.35 97.90,112.18 98.04,112.89 98.27,113.47 98.66,113.89 98.80,114.10" fill="#e60000" stroke="#e60000" stroke-width="0.9" stroke-linejoin="round" opacity="0.85"/>
<polygon points="96.54,114.10 96.76,113.91 96.94,113.53 97.05,113.01 97.12,112.37 97.17,111.63 97.21,110.79 97.24,109.87 97.26,108.86 97.28,107.77 97.30,106.61 97.31,105.37 97.33,104.07 97.34,102.70 97.35,101.26 97.36,99.77 97.37,98.21 97.39,96.59 97.42,94.91 97.42,94.91 97.45,96.59 97.47,98.21 97.48,99.77 97.49,101.26 97.50,102.70 97.51,104.07 97.53,105.37 97.54,106.61 97.56,107.77 97.58,108.86 97.60,109.87 97.63,110.79 97.67,111.63 97.72,112.37 97.79,113.01 97.90,113.53 98.08,113.91 98.30,114.10" fill="#200000" stroke="#200000" stroke-width="0.62" stroke-linejoin="round"/>
<polygon points="137.50,114.10 137.50,114.00 137.73,113.80 137.98,113.52 138.16,113.19 138.29,112.79 138.39,112.35 138.47,111.86 138.53,111.33 138.59,110.75 138.64,110.14 138.68,109.48 138.72,108.79 138.76,108.07 138.79,107.31 138.83,106.52 138.87,105.69 138.91,104.84 139.00,103.95 139.00,103.95 139.09,104.84 139.13,105.69 139.17,106.52 139.21,107.31 139.24,108.07 139.28,108.79 139.32,109.48 139.36,110.14 139.41,110.75 139.47,111.33 139.53,111.86 139.61,112.35 139.71,112.79 139.84,113.19 140.02,113.52 140.27,113.80 140.50,114.00 140.50,114.10" fill="#e60000" stroke="#e60000" stroke-width="0.9" stroke-linejoin="round" opacity="0.85"/>
<polygon points="138.70,114.10 138.73,114.06 138.78,113.97 138.83,113.85 138.87,113.70 138.90,113.53 138.93,113.34 138.95,113.12 138.97,112.89 138.99,112.64 139.00,112.37 139.02,112.09 139.03,111.78 139.04,111.47 139.05,111.14 139.06,110.79 139.08,110.43 139.09,110.06 139.12,109.67 139.12,109.67 139.15,110.06 139.16,110.43 139.18,110.79 139.19,111.14 139.20,111.47 139.21,111.78 139.22,112.09 139.24,112.37 139.25,112.64 139.27,112.89 139.29,113.12 139.31,113.34 139.34,113.53 139.37,113.70 139.41,113.85 139.46,113.97 139.51,114.06 139.54,114.10" fill="#200000" stroke="#200000" stroke-width="0.62" stroke-linejoin="round"/>
<polygon points="158.40,114.10 158.85,113.24 159.60,111.49 159.93,109.10 160.11,106.17 160.23,102.77 160.32,98.94 160.39,94.69 160.44,90.07 160.49,85.09 160.53,79.76 160.56,74.10 160.59,68.13 160.62,61.85 160.65,55.27 160.67,48.40 160.70,41.26 160.73,33.84 160.80,26.15 160.80,26.15 160.87,33.84 160.90,41.26 160.93,48.40 160.95,55.27 160.98,61.85 161.01,68.13 161.04,74.10 161.07,79.76 161.11,85.09 161.16,90.07 161.21,94.69 161.28,98.94 161.37,102.77 161.49,106.17 161.67,109.10 162.00,111.49 162.75,113.24 163.20,114.10" fill="#e00000" fill-opacity="1" stroke="#e00000" stroke-width="0.6" stroke-linejoin="round" opacity="0.9"/>
<g fill="#ee0000"><rect x="160.90" y="110.28" width="1.4" height="1.4"/><rect x="160.90" y="108.61" width="1.4" height="1.4"/><rect x="159.30" y="106.43" width="1.4" height="1.4"/><rect x="160.90" y="106.90" width="1.4" height="1.4"/><rect x="159.30" y="105.10" width="1.4" height="1.4"/><rect x="160.90" y="104.70" width="1.4" height="1.4"/><rect x="159.30" y="103.10" width="1.4" height="1.4"/><rect x="160.90" y="103.50" width="1.4" height="1.4"/><rect x="160.90" y="101.77" width="1.4" height="1.4"/><rect x="159.30" y="99.89" width="1.4" height="1.4"/><rect x="159.30" y="97.42" width="1.4" height="1.4"/><rect x="160.90" y="95.36" width="1.4" height="1.4"/><rect x="160.90" y="89.46" width="1.4" height="1.4"/><rect x="159.30" y="87.41" width="1.4" height="1.4"/><rect x="159.30" y="85.48" width="1.4" height="1.4"/><rect x="160.90" y="85.29" width="1.4" height="1.4"/><rect x="160.90" y="80.39" width="1.4" height="1.4"/><rect x="159.30" y="78.17" width="1.4" height="1.4"/><rect x="160.90" y="78.04" width="1.4" height="1.4"/><rect x="159.30" y="75.92" width="1.4" height="1.4"/><rect x="159.30" y="70.58" width="1.4" height="1.4"/><rect x="160.90" y="70.61" width="1.4" height="1.4"/><rect x="160.90" y="68.57" width="1.4" height="1.4"/><rect x="159.30" y="65.82" width="1.4" height="1.4"/><rect x="159.30" y="62.71" width="1.4" height="1.4"/><rect x="160.90" y="62.94" width="1.4" height="1.4"/><rect x="160.90" y="60.08" width="1.4" height="1.4"/><rect x="160.90" y="57.13" width="1.4" height="1.4"/><rect x="159.30" y="51.34" width="1.4" height="1.4"/><rect x="159.30" y="48.37" width="1.4" height="1.4"/><rect x="160.90" y="48.88" width="1.4" height="1.4"/><rect x="159.30" y="45.16" width="1.4" height="1.4"/><rect x="160.90" y="45.63" width="1.4" height="1.4"/><rect x="160.90" y="42.38" width="1.4" height="1.4"/><rect x="159.30" y="39.33" width="1.4" height="1.4"/><rect x="160.90" y="39.19" width="1.4" height="1.4"/><rect x="160.90" y="35.69" width="1.4" height="1.4"/><rect x="159.30" y="32.03" width="1.4" height="1.4"/><rect x="160.90" y="32.51" width="1.4" height="1.4"/><rect x="159.30" y="28.45" width="1.4" height="1.4"/><rect x="160.90" y="29.09" width="1.4" height="1.4"/></g>
<rect x="160.15" y="26.15" width="1.3" height="2.00" fill="#e80000"/>
<rect x="160.25" y="26.15" width="1.15" height="82.20" fill="#161616"/>
<rect x="160.50" y="107.85" width="0.7" height="5.5" fill="#400000"/>
<rect x="38.8" y="113.55" width="171.90" height="0.9" fill="#d40000"/>
<rect x="39.3" y="114.15" width="170.90" height="1.0" fill="#560000"/>
<rect x="188" y="112.65" width="1.3" height="0.7" fill="#e00000" opacity="0.7"/>
<rect x="193" y="112.65" width="1.3" height="0.7" fill="#e00000" opacity="0.7"/>
<rect x="197" y="112.65" width="1.3" height="0.7" fill="#e00000" opacity="0.7"/>
<rect x="200.5" y="112.65" width="1.3" height="0.7" fill="#e00000" opacity="0.7"/>
<rect x="203" y="112.65" width="1.3" height="0.7" fill="#e00000" opacity="0.7"/>
<rect x="205.5" y="112.65" width="1.3" height="0.7" fill="#e00000" opacity="0.7"/>
<rect x="35.95" y="118.2" width="1.1" height="4.3" fill="#2fa52f" opacity="0.7"/>
<rect x="37.95" y="118.2" width="1.1" height="4.3" fill="#2fa52f" opacity="0.7"/>
<rect x="39.15" y="118.2" width="1.1" height="4.3" fill="#2fa52f" opacity="0.7"/>
<rect x="41.05" y="118.2" width="1.1" height="4.3" fill="#2fa52f" opacity="0.7"/>
<rect x="43.35" y="118.2" width="1.1" height="4.3" fill="#2fa52f" opacity="0.7"/>
<rect x="44.75" y="118.2" width="1.1" height="4.3" fill="#2fa52f" opacity="0.7"/>
<rect x="46.15" y="118.2" width="1.1" height="4.3" fill="#2fa52f" opacity="0.7"/>
<rect x="50.75" y="118.2" width="1.1" height="4.3" fill="#2fa52f" opacity="0.7"/>
<rect x="54.15" y="118.2" width="1.1" height="4.3" fill="#2fa52f" opacity="0.7"/>
<rect x="59.75" y="118.2" width="1.1" height="4.3" fill="#2fa52f" opacity="0.7"/>
<rect x="61.45" y="118.2" width="1.1" height="4.3" fill="#2fa52f" opacity="0.7"/>
<rect x="67.25" y="118.2" width="1.1" height="4.3" fill="#2fa52f" opacity="0.7"/>
<rect x="78.05" y="118.2" width="1.1" height="4.3" fill="#2fa52f" opacity="0.7"/>
<rect x="82.05" y="118.2" width="1.1" height="4.3" fill="#2fa52f" opacity="0.7"/>
<rect x="96.75" y="118.2" width="1.1" height="4.3" fill="#2fa52f" opacity="0.7"/>
<rect x="138.45" y="118.2" width="1.1" height="4.3" fill="#2fa52f" opacity="0.7"/>
<rect x="160.25" y="118.2" width="1.1" height="4.3" fill="#2fa52f" opacity="0.7"/>
<path d="M38.8,136.63 L39.6,137.20 L40.4,136.62 L41.2,136.27 L42.0,136.77 L42.8,137.07 L43.6,137.01 L44.4,136.28 L45.2,136.80 L46.0,136.44 L46.8,136.24 L47.6,137.38 L48.4,137.05 L49.2,136.63 L50.0,137.13 L50.8,137.15 L51.6,136.21 L52.4,136.66 L53.2,136.57 L54.0,136.26 L54.8,137.09 L55.6,137.24 L56.4,136.78 L57.2,137.20 L58.0,136.85 L58.8,136.68 L59.6,136.88 L60.4,137.18 L61.2,136.52 L62.0,136.82 L62.8,136.35 L63.6,136.85 L64.4,137.03 L65.2,136.69 L66.0,136.32 L66.8,137.26 L67.6,137.13 L68.4,137.19 L69.2,136.39 L70.0,137.40 L70.8,136.79 L71.6,136.41 L72.4,136.55 L73.2,136.29 L74.0,137.17 L74.8,137.34 L75.6,137.29 L76.4,137.06 L77.2,136.83 L78.0,136.65 L78.8,137.00 L79.6,136.22 L80.4,136.27 L81.2,136.84 L82.0,136.59 L82.8,137.39 L83.6,137.03 L84.4,136.25 L85.2,136.93 L86.0,136.24 L86.8,137.35 L87.6,137.03 L88.4,137.14 L89.2,136.63 L90.0,136.24 L90.8,137.08 L91.6,137.02 L92.4,136.60 L93.2,136.45 L94.0,137.23 L94.8,136.60 L95.6,137.03 L96.4,137.27 L97.2,137.00 L98.0,136.35 L98.8,137.23 L99.6,137.37 L100.4,137.24 L101.2,137.01 L102.0,136.32 L102.8,136.31 L103.6,137.13 L104.4,136.34 L105.2,137.24 L106.0,136.47 L106.8,136.75 L107.6,136.46 L108.4,137.00 L109.2,137.00 L110.0,136.55 L110.8,136.78 L111.6,136.78 L112.4,136.97 L113.2,137.29 L114.0,136.71 L114.8,136.23 L115.6,137.30 L116.4,137.06 L117.2,136.41 L118.0,137.00 L118.8,136.26 L119.6,137.39 L120.4,136.51 L121.2,137.09 L122.0,136.63 L122.8,136.93 L123.6,136.86 L124.4,137.37 L125.2,136.77 L126.0,137.19 L126.8,136.80 L127.6,136.62 L128.4,137.18 L129.2,136.35 L130.0,136.41 L130.8,136.58 L131.6,136.82 L132.4,136.89 L133.2,136.43 L134.0,136.21 L134.8,136.76 L135.6,136.28 L136.4,136.85 L137.2,137.36 L138.0,137.18 L138.8,136.35 L139.6,136.95 L140.4,136.60 L141.2,137.15 L142.0,136.94 L142.8,136.67 L143.6,136.55 L144.4,136.38 L145.2,136.96 L146.0,136.48 L146.8,137.00 L147.6,137.35 L148.4,136.60 L149.2,137.00 L150.0,137.05 L150.8,136.84 L151.6,137.38 L152.4,136.22 L153.2,136.73 L154.0,136.39 L154.8,137.19 L155.6,137.04 L156.4,137.11 L157.2,136.84 L158.0,136.20 L158.8,136.29 L159.6,136.71 L160.4,137.32 L161.2,136.35 L162.0,136.42 L162.8,137.36 L163.6,136.75 L164.4,137.00" fill="none" stroke="#4a4aff" stroke-width="0.85" stroke-dasharray="1.0 0.7" opacity="0.68"/>
<path d="M61.30,136.8 L62.00,134.30 L62.55,136.8 L63.20,138.30 L63.90,136.8 M78.00,136.8 L78.70,133.80 L79.25,136.8 L79.90,138.30 L80.60,136.8 M96.60,136.8 L97.30,135.30 L97.85,136.8 L98.50,137.80 L99.20,136.8 M138.30,136.8 L139.00,132.80 L139.55,136.8 L140.20,137.80 L140.90,136.8 M160.10,136.8 L160.80,131.80 L161.35,136.8 L162.00,138.80 L162.70,136.8" fill="none" stroke="#4a4aff" stroke-width="0.65" opacity="0.72" stroke-dasharray="1.3 0.6" stroke-linejoin="round"/>
<path d="M165,136.8 H185" stroke="#4a4aff" stroke-width="0.95" stroke-dasharray="1.2 1.0" opacity="0.75" fill="none"/>
<path d="M185,136.8 H211.2" stroke="#4a4aff" stroke-width="1" stroke-dasharray="3 2.3" opacity="0.8" fill="none"/>
</g>
<rect x="31.55" y="4.35" width="186.00" height="138.05" fill="none" stroke="#6a6a6a" stroke-width="1"/>
<path d="M31.55,137.10h2.6 M31.55,126.00h1.4 M31.55,114.90h2.6 M31.55,103.80h1.4 M31.55,92.70h2.6 M31.55,81.60h1.4 M31.55,70.50h2.6 M31.55,59.40h1.4 M31.55,48.30h2.6 M31.55,37.20h1.4 M31.55,26.10h2.6 M31.55,15.00h1.4 M43.50,142.4v-2.6 M55.36,142.4v-1.4 M67.22,142.4v-2.6 M79.07,142.4v-1.4 M90.93,142.4v-2.6 M102.79,142.4v-1.4 M114.64,142.4v-2.6 M126.50,142.4v-1.4 M138.36,142.4v-2.6 M150.22,142.4v-1.4 M162.07,142.4v-2.6 M173.93,142.4v-1.4 M185.79,142.4v-2.6 M197.65,142.4v-1.4 M209.50,142.4v-2.6" stroke="#3a3a3a" stroke-width="0.9" fill="none"/>
<text x="28.6" y="140.45" text-anchor="end" class="t" font-size="10.0" stroke="#000">-20</text>
<text x="28.6" y="118.25" text-anchor="end" class="t" font-size="10.0" stroke="#000">0</text>
<text x="28.6" y="96.05" text-anchor="end" class="t" font-size="10.0" stroke="#000">20</text>
<text x="28.6" y="73.85" text-anchor="end" class="t" font-size="10.0" stroke="#000">40</text>
<text x="28.6" y="51.65" text-anchor="end" class="t" font-size="10.0" stroke="#000">60</text>
<text x="28.6" y="29.45" text-anchor="end" class="t" font-size="10.0" stroke="#000">80</text>
<text x="28.6" y="8.05" text-anchor="end" class="t" font-size="10.0" stroke="#000">100</text>
<text x="43.60" y="153.6" text-anchor="middle" class="t" font-size="10.15" stroke="#000">0.6</text>
<text x="67.31" y="153.6" text-anchor="middle" class="t" font-size="10.15" stroke="#000">0.9</text>
<text x="91.03" y="153.6" text-anchor="middle" class="t" font-size="10.15" stroke="#000">1.2</text>
<text x="114.74" y="153.6" text-anchor="middle" class="t" font-size="10.15" stroke="#000">1.5</text>
<text x="138.46" y="153.6" text-anchor="middle" class="t" font-size="10.15" stroke="#000">1.8</text>
<text x="162.17" y="153.6" text-anchor="middle" class="t" font-size="10.15" stroke="#000">2.1</text>
<text x="185.89" y="153.6" text-anchor="middle" class="t" font-size="10.15" stroke="#000">2.4</text>
<text x="209.60" y="153.6" text-anchor="middle" class="t" font-size="10.15" stroke="#000">2.7</text>
<text x="124.5" y="169.2" text-anchor="middle" class="t" font-size="10.05" stroke="#000">d-spacing (<tspan font-weight="normal" font-size="8.2" fill="#333" stroke="#333" stroke-width="0.15" textLength="4.3" lengthAdjust="spacingAndGlyphs" dx="0.2">A</tspan><tspan dx="0.2">)</tspan></text>
<text transform="translate(9.4,72.9) rotate(-90)" text-anchor="middle" class="t" font-size="10.3" stroke="#000">Intensity (a.u.)</text>
<text x="38.20" y="22.0" font-family="Liberation Serif, serif" font-weight="bold" font-size="18.9">b</text>
<text x="68.4" y="25.25" class="t" font-size="10.2" fill="#ff0000" stroke="#ff0000">Neutron profile</text>
<text x="68.4" y="37.5" class="t" font-size="10.2" fill="#000" stroke="#000">Fitted profile</text>
<text x="68.4" y="49.85" class="t" font-size="10.2" fill="#0000ff" stroke="#0000ff">Residual</text>
<text x="68.4" y="62.25" class="t" font-size="10.2" fill="#0a960a" stroke="#0a960a">Bragg_position</text>
<rect x="57.1" y="22.0" width="1.6" height="1.6" fill="#ff0000"/>
<path d="M50.1,35.45 H65.4" stroke="#2a2a2a" stroke-width="0.8"/>
<path d="M50.1,47.9 H65.4" stroke="#a4a4ff" stroke-width="1.15" stroke-dasharray="3.3 2.2" opacity="0.9"/>
<rect x="57.5" y="58" width="1" height="4.8" fill="#7cc47c" opacity="0.8"/>
</g>
<g transform="translate(467.9,0)">
<g transform="translate(0,0)">
<polygon points="42.37,114.10 42.43,114.06 42.53,113.97 42.63,113.85 42.70,113.71 42.77,113.54 42.82,113.35 42.87,113.14 42.90,112.91 42.94,112.67 42.97,112.40 42.99,112.12 43.02,111.83 43.04,111.52 43.06,111.19 43.09,110.85 43.11,110.50 43.14,110.13 43.20,109.75 43.20,109.75 43.26,110.13 43.29,110.50 43.31,110.85 43.34,111.19 43.36,111.52 43.38,111.83 43.41,112.12 43.43,112.40 43.46,112.67 43.50,112.91 43.53,113.14 43.58,113.35 43.63,113.54 43.70,113.71 43.77,113.85 43.87,113.97 43.97,114.06 44.03,114.10" fill="#e60000" stroke="#e60000" stroke-width="0.9" stroke-linejoin="round" opacity="0.85"/>
<polygon points="43.03,114.10 43.05,114.08 43.07,114.04 43.09,113.98 43.11,113.92 43.13,113.84 43.15,113.75 43.17,113.65 43.18,113.54 43.20,113.42 43.21,113.30 43.22,113.17 43.23,113.03 43.24,112.88 43.26,112.73 43.27,112.57 43.28,112.40 43.29,112.23 43.32,112.05 43.32,112.05 43.35,112.23 43.36,112.40 43.37,112.57 43.38,112.73 43.40,112.88 43.41,113.03 43.42,113.17 43.43,113.30 43.44,113.42 43.46,113.54 43.47,113.65 43.49,113.75 43.51,113.84 43.53,113.92 43.55,113.98 43.57,114.04 43.59,114.08 43.61,114.10" fill="#200000" stroke="#200000" stroke-width="0.62" stroke-linejoin="round"/>
<polygon points="45.64,114.10 45.67,114.07 45.73,114.02 45.79,113.94 45.85,113.85 45.90,113.75 45.95,113.63 45.98,113.49 46.02,113.35 46.05,113.19 46.07,113.03 46.10,112.85 46.12,112.66 46.15,112.47 46.17,112.26 46.19,112.05 46.21,111.82 46.24,111.59 46.30,111.35 46.30,111.35 46.36,111.59 46.39,111.82 46.41,112.05 46.43,112.26 46.45,112.47 46.48,112.66 46.50,112.85 46.53,113.03 46.55,113.19 46.58,113.35 46.62,113.49 46.65,113.63 46.70,113.75 46.75,113.85 46.81,113.94 46.87,114.02 46.93,114.07 46.96,114.10" fill="#e60000" stroke="#e60000" stroke-width="0.9" stroke-linejoin="round" opacity="0.85"/>
<polygon points="46.23,114.10 46.23,114.09 46.24,114.07 46.25,114.05 46.26,114.01 46.27,113.98 46.28,113.94 46.29,113.89 46.30,113.84 46.31,113.79 46.32,113.73 46.33,113.67 46.34,113.60 46.35,113.54 46.36,113.46 46.37,113.39 46.38,113.31 46.39,113.23 46.42,113.15 46.42,113.15 46.45,113.23 46.46,113.31 46.47,113.39 46.48,113.46 46.49,113.54 46.50,113.60 46.51,113.67 46.52,113.73 46.53,113.79 46.54,113.84 46.55,113.89 46.56,113.94 46.57,113.98 46.58,114.01 46.59,114.05 46.60,114.07 46.61,114.09 46.61,114.10" fill="#200000" stroke="#200000" stroke-width="0.62" stroke-linejoin="round"/>
<polygon points="50.03,114.10 50.10,114.05 50.21,113.96 50.31,113.83 50.40,113.67 50.46,113.49 50.52,113.28 50.56,113.05 50.60,112.80 50.64,112.53 50.67,112.25 50.69,111.94 50.72,111.62 50.74,111.28 50.76,110.92 50.79,110.55 50.81,110.17 50.84,109.77 50.90,109.35 50.90,109.35 50.96,109.77 50.99,110.17 51.01,110.55 51.04,110.92 51.06,111.28 51.08,111.62 51.11,111.94 51.13,112.25 51.16,112.53 51.20,112.80 51.24,113.05 51.28,113.28 51.34,113.49 51.40,113.67 51.49,113.83 51.59,113.96 51.70,114.05 51.77,114.10" fill="#e60000" stroke="#e60000" stroke-width="0.9" stroke-linejoin="round" opacity="0.85"/>
<polygon points="50.72,114.10 50.73,114.08 50.76,114.03 50.78,113.97 50.81,113.90 50.83,113.81 50.85,113.71 50.87,113.60 50.88,113.49 50.90,113.36 50.91,113.22 50.92,113.08 50.93,112.92 50.94,112.76 50.95,112.59 50.97,112.42 50.98,112.24 50.99,112.05 51.02,111.85 51.02,111.85 51.05,112.05 51.06,112.24 51.07,112.42 51.09,112.59 51.10,112.76 51.11,112.92 51.12,113.08 51.13,113.22 51.14,113.36 51.16,113.49 51.17,113.60 51.19,113.71 51.21,113.81 51.23,113.90 51.26,113.97 51.28,114.03 51.31,114.08 51.32,114.10" fill="#200000" stroke="#200000" stroke-width="0.62" stroke-linejoin="round"/>
<polygon points="53.10,114.10 53.16,114.06 53.25,113.98 53.34,113.87 53.41,113.73 53.47,113.58 53.52,113.40 53.57,113.21 53.61,112.99 53.64,112.76 53.67,112.52 53.69,112.26 53.72,111.98 53.74,111.69 53.77,111.39 53.79,111.07 53.81,110.75 53.84,110.40 53.90,110.05 53.90,110.05 53.96,110.40 53.99,110.75 54.01,111.07 54.03,111.39 54.06,111.69 54.08,111.98 54.11,112.26 54.13,112.52 54.16,112.76 54.19,112.99 54.23,113.21 54.28,113.40 54.33,113.58 54.39,113.73 54.46,113.87 54.55,113.98 54.64,114.06 54.70,114.10" fill="#e60000" stroke="#e60000" stroke-width="0.9" stroke-linejoin="round" opacity="0.85"/>
<polygon points="53.74,114.10 53.76,114.08 53.77,114.04 53.80,113.99 53.82,113.93 53.84,113.86 53.86,113.77 53.87,113.68 53.89,113.58 53.90,113.47 53.91,113.36 53.92,113.24 53.93,113.11 53.95,112.97 53.96,112.83 53.97,112.68 53.98,112.53 53.99,112.37 54.02,112.20 54.02,112.20 54.05,112.37 54.06,112.53 54.07,112.68 54.08,112.83 54.09,112.97 54.11,113.11 54.12,113.24 54.13,113.36 54.14,113.47 54.15,113.58 54.17,113.68 54.18,113.77 54.20,113.86 54.22,113.93 54.24,113.99 54.27,114.04 54.28,114.08 54.30,114.10" fill="#200000" stroke="#200000" stroke-width="0.62" stroke-linejoin="round"/>
<polygon points="59.17,114.10 59.19,114.08 59.23,114.05 59.27,114.00 59.30,113.94 59.34,113.87 59.38,113.80 59.41,113.71 59.44,113.62 59.46,113.52 59.49,113.42 59.51,113.30 59.53,113.19 59.55,113.06 59.57,112.93 59.59,112.79 59.62,112.65 59.64,112.50 59.70,112.35 59.70,112.35 59.76,112.50 59.78,112.65 59.81,112.79 59.83,112.93 59.85,113.06 59.87,113.19 59.89,113.30 59.91,113.42 59.94,113.52 59.96,113.62 59.99,113.71 60.02,113.80 60.06,113.87 60.10,113.94 60.13,114.00 60.17,114.05 60.21,114.08 60.23,114.10" fill="#e60000" stroke="#e60000" stroke-width="0.9" stroke-linejoin="round" opacity="0.85"/>
<polygon points="59.56,114.10 59.57,114.08 59.58,114.05 59.60,114.00 59.62,113.94 59.64,113.87 59.66,113.80 59.67,113.71 59.69,113.62 59.70,113.52 59.71,113.42 59.72,113.30 59.74,113.19 59.75,113.06 59.76,112.93 59.77,112.79 59.78,112.65 59.79,112.50 59.82,112.35 59.82,112.35 59.85,112.50 59.86,112.65 59.87,112.79 59.88,112.93 59.89,113.06 59.90,113.19 59.92,113.30 59.93,113.42 59.94,113.52 59.95,113.62 59.97,113.71 59.98,113.80 60.00,113.87 60.02,113.94 60.04,114.00 60.06,114.05 60.07,114.08 60.08,114.10" fill="#200000" stroke="#200000" stroke-width="0.62" stroke-linejoin="round"/>
<polygon points="59.69,114.10 59.91,113.99 60.14,113.78 60.31,113.49 60.43,113.13 60.52,112.72 60.59,112.25 60.64,111.73 60.69,111.16 60.72,110.55 60.76,109.90 60.79,109.21 60.81,108.48 60.84,107.71 60.86,106.91 60.89,106.07 60.91,105.20 60.94,104.29 61.00,103.35 61.00,103.35 61.06,104.29 61.09,105.20 61.11,106.07 61.14,106.91 61.16,107.71 61.19,108.48 61.21,109.21 61.24,109.90 61.28,110.55 61.31,111.16 61.36,111.73 61.41,112.25 61.48,112.72 61.57,113.13 61.69,113.49 61.86,113.78 62.09,113.99 62.31,114.10" fill="#e60000" stroke="#e60000" stroke-width="0.9" stroke-linejoin="round" opacity="0.85"/>
<polygon points="60.62,114.10 60.67,114.04 60.75,113.91 60.81,113.74 60.85,113.53 60.89,113.28 60.92,113.01 60.95,112.70 60.97,112.37 60.99,112.01 61.00,111.62 61.01,111.21 61.03,110.78 61.04,110.33 61.05,109.85 61.06,109.36 61.08,108.84 61.09,108.30 61.12,107.75 61.12,107.75 61.15,108.30 61.16,108.84 61.18,109.36 61.19,109.85 61.20,110.33 61.21,110.78 61.23,111.21 61.24,111.62 61.25,112.01 61.27,112.37 61.29,112.70 61.32,113.01 61.35,113.28 61.39,113.53 61.43,113.74 61.49,113.91 61.57,114.04 61.62,114.10" fill="#200000" stroke="#200000" stroke-width="0.62" stroke-linejoin="round"/>
<polygon points="66.37,114.10 66.39,114.08 66.43,114.05 66.47,114.00 66.50,113.94 66.54,113.87 66.58,113.80 66.61,113.71 66.64,113.62 66.66,113.52 66.69,113.42 66.71,113.30 66.73,113.19 66.75,113.06 66.77,112.93 66.79,112.79 66.82,112.65 66.84,112.50 66.90,112.35 66.90,112.35 66.96,112.50 66.98,112.65 67.01,112.79 67.03,112.93 67.05,113.06 67.07,113.19 67.09,113.30 67.11,113.42 67.14,113.52 67.16,113.62 67.19,113.71 67.22,113.80 67.26,113.87 67.30,113.94 67.33,114.00 67.37,114.05 67.41,114.08 67.43,114.10" fill="#e60000" stroke="#e60000" stroke-width="0.9" stroke-linejoin="round" opacity="0.85"/>
<polygon points="66.87,114.10 66.87,114.09 66.88,114.08 66.88,114.07 66.89,114.05 66.90,114.03 66.91,114.01 66.91,113.98 66.92,113.95 66.93,113.92 66.94,113.89 66.94,113.85 66.95,113.81 66.96,113.77 66.97,113.73 66.97,113.69 66.98,113.64 66.99,113.60 67.02,113.55 67.02,113.55 67.05,113.60 67.06,113.64 67.07,113.69 67.07,113.73 67.08,113.77 67.09,113.81 67.10,113.85 67.10,113.89 67.11,113.92 67.12,113.95 67.13,113.98 67.13,114.01 67.14,114.03 67.15,114.05 67.16,114.07 67.16,114.08 67.17,114.09 67.17,114.10" fill="#200000" stroke="#200000" stroke-width="0.62" stroke-linejoin="round"/>
<polygon points="72.65,114.10 72.66,114.09 72.67,114.08 72.69,114.06 72.71,114.03 72.73,114.00 72.74,113.97 72.76,113.93 72.78,113.90 72.80,113.85 72.82,113.81 72.83,113.76 72.85,113.71 72.87,113.65 72.89,113.60 72.90,113.54 72.92,113.48 72.95,113.42 73.00,113.35 73.00,113.35 73.05,113.42 73.08,113.48 73.10,113.54 73.11,113.60 73.13,113.65 73.15,113.71 73.17,113.76 73.18,113.81 73.20,113.85 73.22,113.90 73.24,113.93 73.26,113.97 73.27,114.00 73.29,114.03 73.31,114.06 73.33,114.08 73.34,114.09 73.35,114.10" fill="#e60000" stroke="#e60000" stroke-width="0.9" stroke-linejoin="round" opacity="0.85"/>
<polygon points="73.08,114.10 73.08,114.10 73.08,114.10 73.08,114.10 73.08,114.10 73.08,114.09 73.08,114.09 73.08,114.09 73.08,114.09 73.08,114.08 73.09,114.08 73.09,114.08 73.09,114.07 73.09,114.07 73.10,114.07 73.10,114.06 73.10,114.06 73.11,114.05 73.12,114.05 73.12,114.05 73.13,114.05 73.14,114.06 73.14,114.06 73.14,114.07 73.15,114.07 73.15,114.07 73.15,114.08 73.15,114.08 73.16,114.08 73.16,114.09 73.16,114.09 73.16,114.09 73.16,114.09 73.16,114.10 73.16,114.10 73.16,114.10 73.16,114.10 73.16,114.10" fill="#200000" stroke="#200000" stroke-width="0.62" stroke-linejoin="round"/>
<polygon points="76.70,114.10 76.99,113.96 77.29,113.67 77.49,113.27 77.62,112.79 77.71,112.23 77.78,111.59 77.84,110.89 77.88,110.12 77.92,109.30 77.96,108.42 77.99,107.48 78.01,106.49 78.04,105.46 78.06,104.37 78.08,103.23 78.11,102.05 78.14,100.82 78.20,99.55 78.20,99.55 78.26,100.82 78.29,102.05 78.32,103.23 78.34,104.37 78.36,105.46 78.39,106.49 78.41,107.48 78.44,108.42 78.48,109.30 78.52,110.12 78.56,110.89 78.62,111.59 78.69,112.23 78.78,112.79 78.91,113.27 79.11,113.67 79.41,113.96 79.70,114.10" fill="#e60000" stroke="#e60000" stroke-width="0.9" stroke-linejoin="round" opacity="0.85"/>
<polygon points="77.68,114.10 77.78,114.00 77.90,113.80 77.98,113.52 78.04,113.19 78.08,112.80 78.12,112.36 78.14,111.87 78.16,111.34 78.18,110.76 78.20,110.15 78.21,109.50 78.23,108.82 78.24,108.09 78.25,107.34 78.26,106.55 78.28,105.73 78.29,104.87 78.32,103.99 78.32,103.99 78.35,104.87 78.36,105.73 78.38,106.55 78.39,107.34 78.40,108.09 78.41,108.82 78.43,109.50 78.44,110.15 78.46,110.76 78.48,111.34 78.50,111.87 78.52,112.36 78.56,112.80 78.60,113.19 78.66,113.52 78.74,113.80 78.86,114.00 78.96,114.10" fill="#200000" stroke="#200000" stroke-width="0.62" stroke-linejoin="round"/>
<polygon points="80.92,114.10 81.05,114.03 81.22,113.88 81.36,113.69 81.46,113.45 81.54,113.17 81.60,112.85 81.65,112.50 81.69,112.12 81.73,111.71 81.76,111.27 81.79,110.80 81.81,110.31 81.84,109.79 81.86,109.25 81.89,108.68 81.91,108.10 81.94,107.48 82.00,106.85 82.00,106.85 82.06,107.48 82.09,108.10 82.11,108.68 82.14,109.25 82.16,109.79 82.19,110.31 82.21,110.80 82.24,111.27 82.27,111.71 82.31,112.12 82.35,112.50 82.40,112.85 82.46,113.17 82.54,113.45 82.64,113.69 82.78,113.88 82.95,114.03 83.08,114.10" fill="#e60000" stroke="#e60000" stroke-width="0.9" stroke-linejoin="round" opacity="0.85"/>
<polygon points="81.61,114.10 81.67,114.04 81.74,113.91 81.81,113.73 81.85,113.51 81.89,113.26 81.92,112.98 81.95,112.67 81.97,112.32 81.99,111.96 82.00,111.56 82.01,111.14 82.03,110.70 82.04,110.24 82.05,109.75 82.06,109.24 82.08,108.72 82.09,108.17 82.12,107.60 82.12,107.60 82.15,108.17 82.16,108.72 82.18,109.24 82.19,109.75 82.20,110.24 82.21,110.70 82.23,111.14 82.24,111.56 82.25,111.96 82.27,112.32 82.29,112.67 82.32,112.98 82.35,113.26 82.39,113.51 82.43,113.73 82.50,113.91 82.57,114.04 82.63,114.10" fill="#200000" stroke="#200000" stroke-width="0.62" stroke-linejoin="round"/>
<polygon points="95.10,114.10 95.26,113.90 95.64,113.49 95.86,112.94 96.00,112.26 96.10,111.47 96.18,110.57 96.23,109.59 96.28,108.51 96.32,107.35 96.35,106.12 96.38,104.80 96.41,103.41 96.44,101.95 96.46,100.42 96.48,98.82 96.51,97.16 96.54,95.44 96.60,93.65 96.60,93.65 96.66,95.44 96.69,97.16 96.72,98.82 96.74,100.42 96.76,101.95 96.79,103.41 96.82,104.80 96.85,106.12 96.88,107.35 96.92,108.51 96.97,109.59 97.02,110.57 97.10,111.47 97.20,112.26 97.34,112.94 97.56,113.49 97.94,113.90 98.10,114.10" fill="#e60000" stroke="#e60000" stroke-width="0.9" stroke-linejoin="round" opacity="0.85"/>
<polygon points="95.89,114.10 96.08,113.93 96.25,113.58 96.36,113.11 96.42,112.54 96.47,111.87 96.51,111.11 96.54,110.27 96.56,109.36 96.58,108.38 96.60,107.33 96.61,106.21 96.63,105.03 96.64,103.80 96.65,102.50 96.66,101.14 96.67,99.73 96.69,98.27 96.72,96.75 96.72,96.75 96.75,98.27 96.77,99.73 96.78,101.14 96.79,102.50 96.80,103.80 96.81,105.03 96.83,106.21 96.84,107.33 96.86,108.38 96.88,109.36 96.90,110.27 96.93,111.11 96.97,111.87 97.02,112.54 97.08,113.11 97.19,113.58 97.36,113.93 97.55,114.10" fill="#200000" stroke="#200000" stroke-width="0.62" stroke-linejoin="round"/>
<polygon points="136.50,114.10 136.50,114.00 136.73,113.80 136.98,113.52 137.16,113.19 137.29,112.79 137.39,112.35 137.47,111.86 137.53,111.33 137.59,110.75 137.64,110.14 137.68,109.48 137.72,108.79 137.76,108.07 137.79,107.31 137.83,106.52 137.87,105.69 137.91,104.84 138.00,103.95 138.00,103.95 138.09,104.84 138.13,105.69 138.17,106.52 138.21,107.31 138.24,108.07 138.28,108.79 138.32,109.48 138.36,110.14 138.41,110.75 138.47,111.33 138.53,111.86 138.61,112.35 138.71,112.79 138.84,113.19 139.02,113.52 139.27,113.80 139.50,114.00 139.50,114.10" fill="#e60000" stroke="#e60000" stroke-width="0.9" stroke-linejoin="round" opacity="0.85"/>
<polygon points="137.70,114.10 137.73,114.06 137.78,113.97 137.83,113.85 137.87,113.70 137.90,113.53 137.93,113.34 137.95,113.12 137.97,112.89 137.99,112.64 138.00,112.37 138.02,112.09 138.03,111.78 138.04,111.47 138.05,111.14 138.06,110.79 138.08,110.43 138.09,110.06 138.12,109.67 138.12,109.67 138.15,110.06 138.16,110.43 138.18,110.79 138.19,111.14 138.20,111.47 138.21,111.78 138.22,112.09 138.24,112.37 138.25,112.64 138.27,112.89 138.29,113.12 138.31,113.34 138.34,113.53 138.37,113.70 138.41,113.85 138.46,113.97 138.51,114.06 138.54,114.10" fill="#200000" stroke="#200000" stroke-width="0.62" stroke-linejoin="round"/>
<polygon points="157.70,114.10 158.15,113.22 158.90,111.45 159.23,109.02 159.41,106.06 159.53,102.60 159.62,98.71 159.69,94.41 159.74,89.72 159.79,84.66 159.83,79.25 159.86,73.51 159.89,67.45 159.92,61.07 159.95,54.40 159.97,47.43 160.00,40.18 160.03,32.65 160.10,24.85 160.10,24.85 160.17,32.65 160.20,40.18 160.23,47.43 160.25,54.40 160.28,61.07 160.31,67.45 160.34,73.51 160.37,79.25 160.41,84.66 160.46,89.72 160.51,94.41 160.58,98.71 160.67,102.60 160.79,106.06 160.97,109.02 161.30,111.45 162.05,113.22 162.50,114.10" fill="#e00000" fill-opacity="1" stroke="#e00000" stroke-width="0.6" stroke-linejoin="round" opacity="0.9"/>
<g fill="#ee0000"><rect x="158.65" y="110.37" width="1.4" height="1.4"/><rect x="158.65" y="108.50" width="1.4" height="1.4"/><rect x="158.65" y="105.83" width="1.4" height="1.4"/><rect x="158.65" y="104.42" width="1.4" height="1.4"/><rect x="158.65" y="102.49" width="1.4" height="1.4"/><rect x="158.65" y="99.95" width="1.4" height="1.4"/><rect x="158.65" y="97.96" width="1.4" height="1.4"/><rect x="158.65" y="95.40" width="1.4" height="1.4"/><rect x="158.65" y="92.99" width="1.4" height="1.4"/><rect x="158.65" y="90.92" width="1.4" height="1.4"/><rect x="158.65" y="88.38" width="1.4" height="1.4"/><rect x="158.65" y="85.76" width="1.4" height="1.4"/><rect x="158.65" y="83.10" width="1.4" height="1.4"/><rect x="158.65" y="80.53" width="1.4" height="1.4"/><rect x="158.65" y="78.35" width="1.4" height="1.4"/><rect x="158.65" y="75.44" width="1.4" height="1.4"/><rect x="158.65" y="72.55" width="1.4" height="1.4"/><rect x="158.65" y="69.37" width="1.4" height="1.4"/><rect x="158.65" y="66.42" width="1.4" height="1.4"/><rect x="158.65" y="63.44" width="1.4" height="1.4"/><rect x="158.65" y="60.20" width="1.4" height="1.4"/><rect x="158.65" y="57.01" width="1.4" height="1.4"/><rect x="158.65" y="54.13" width="1.4" height="1.4"/><rect x="158.65" y="47.31" width="1.4" height="1.4"/><rect x="158.65" y="43.31" width="1.4" height="1.4"/><rect x="158.65" y="39.77" width="1.4" height="1.4"/><rect x="158.65" y="35.88" width="1.4" height="1.4"/><rect x="158.65" y="32.10" width="1.4" height="1.4"/><rect x="158.65" y="28.09" width="1.4" height="1.4"/></g>
<rect x="159.45" y="24.85" width="1.3" height="14.53" fill="#e80000"/>
<rect x="159.65" y="37.38" width="1.2" height="70.97" fill="#161616"/>
<rect x="159.90" y="107.85" width="0.7" height="5.5" fill="#400000"/>
<rect x="38.8" y="113.55" width="171.90" height="0.9" fill="#d40000"/>
<rect x="39.3" y="114.15" width="170.90" height="1.0" fill="#560000"/>
<rect x="188" y="112.65" width="1.3" height="0.7" fill="#e00000" opacity="0.7"/>
<rect x="193" y="112.65" width="1.3" height="0.7" fill="#e00000" opacity="0.7"/>
<rect x="197" y="112.65" width="1.3" height="0.7" fill="#e00000" opacity="0.7"/>
<rect x="200.5" y="112.65" width="1.3" height="0.7" fill="#e00000" opacity="0.7"/>
<rect x="203" y="112.65" width="1.3" height="0.7" fill="#e00000" opacity="0.7"/>
<rect x="205.5" y="112.65" width="1.3" height="0.7" fill="#e00000" opacity="0.7"/>
<rect x="35.25" y="118.2" width="1.1" height="4.3" fill="#2fa52f" opacity="0.7"/>
<rect x="37.85" y="118.2" width="1.1" height="4.3" fill="#2fa52f" opacity="0.7"/>
<rect x="39.05" y="118.2" width="1.1" height="4.3" fill="#2fa52f" opacity="0.7"/>
<rect x="40.05" y="118.2" width="1.1" height="4.3" fill="#2fa52f" opacity="0.7"/>
<rect x="42.65" y="118.2" width="1.1" height="4.3" fill="#2fa52f" opacity="0.7"/>
<rect x="43.85" y="118.2" width="1.1" height="4.3" fill="#2fa52f" opacity="0.7"/>
<rect x="45.75" y="118.2" width="1.1" height="4.3" fill="#2fa52f" opacity="0.7"/>
<rect x="50.05" y="118.2" width="1.1" height="4.3" fill="#2fa52f" opacity="0.7"/>
<rect x="52.95" y="118.2" width="1.1" height="4.3" fill="#2fa52f" opacity="0.7"/>
<rect x="53.85" y="118.2" width="1.1" height="4.3" fill="#2fa52f" opacity="0.7"/>
<rect x="59.15" y="118.2" width="1.1" height="4.3" fill="#2fa52f" opacity="0.7"/>
<rect x="60.35" y="118.2" width="1.1" height="4.3" fill="#2fa52f" opacity="0.7"/>
<rect x="66.35" y="118.2" width="1.1" height="4.3" fill="#2fa52f" opacity="0.7"/>
<rect x="77.75" y="118.2" width="1.1" height="4.3" fill="#2fa52f" opacity="0.7"/>
<rect x="81.25" y="118.2" width="1.1" height="4.3" fill="#2fa52f" opacity="0.7"/>
<rect x="96.05" y="118.2" width="1.1" height="4.3" fill="#2fa52f" opacity="0.7"/>
<rect x="137.45" y="118.2" width="1.1" height="4.3" fill="#2fa52f" opacity="0.7"/>
<rect x="159.55" y="118.2" width="1.1" height="4.3" fill="#2fa52f" opacity="0.7"/>
<path d="M38.8,136.68 L39.6,136.44 L40.4,136.41 L41.2,136.50 L42.0,137.11 L42.8,136.50 L43.6,136.66 L44.4,137.02 L45.2,136.85 L46.0,137.33 L46.8,136.79 L47.6,136.71 L48.4,136.94 L49.2,136.46 L50.0,137.28 L50.8,136.65 L51.6,136.67 L52.4,137.02 L53.2,136.38 L54.0,136.99 L54.8,137.22 L55.6,136.61 L56.4,137.34 L57.2,136.83 L58.0,137.13 L58.8,136.76 L59.6,136.68 L60.4,136.52 L61.2,136.21 L62.0,136.44 L62.8,137.39 L63.6,136.84 L64.4,136.75 L65.2,137.28 L66.0,136.93 L66.8,137.37 L67.6,136.63 L68.4,136.46 L69.2,137.30 L70.0,136.39 L70.8,137.15 L71.6,136.91 L72.4,137.38 L73.2,137.33 L74.0,136.99 L74.8,136.24 L75.6,136.23 L76.4,136.77 L77.2,137.18 L78.0,136.30 L78.8,136.71 L79.6,136.30 L80.4,136.57 L81.2,136.21 L82.0,136.60 L82.8,136.83 L83.6,136.44 L84.4,137.14 L85.2,136.27 L86.0,136.45 L86.8,136.51 L87.6,136.68 L88.4,137.12 L89.2,136.62 L90.0,137.03 L90.8,137.31 L91.6,136.36 L92.4,137.24 L93.2,136.92 L94.0,137.10 L94.8,136.93 L95.6,136.69 L96.4,136.32 L97.2,136.37 L98.0,136.41 L98.8,136.41 L99.6,136.37 L100.4,136.45 L101.2,136.87 L102.0,137.12 L102.8,137.16 L103.6,137.22 L104.4,136.34 L105.2,137.19 L106.0,136.42 L106.8,136.29 L107.6,136.55 L108.4,136.90 L109.2,136.26 L110.0,136.46 L110.8,136.68 L111.6,137.19 L112.4,136.68 L113.2,136.70 L114.0,136.65 L114.8,136.31 L115.6,137.26 L116.4,137.31 L117.2,137.07 L118.0,136.68 L118.8,136.73 L119.6,136.57 L120.4,136.99 L121.2,136.98 L122.0,136.57 L122.8,137.25 L123.6,137.06 L124.4,136.46 L125.2,137.17 L126.0,137.01 L126.8,136.50 L127.6,136.56 L128.4,137.10 L129.2,136.30 L130.0,136.73 L130.8,137.36 L131.6,136.51 L132.4,136.80 L133.2,137.29 L134.0,137.25 L134.8,137.15 L135.6,136.84 L136.4,137.32 L137.2,136.51 L138.0,137.26 L138.8,136.69 L139.6,136.99 L140.4,136.93 L141.2,136.54 L142.0,137.01 L142.8,136.93 L143.6,137.38 L144.4,137.00 L145.2,136.73 L146.0,136.66 L146.8,137.26 L147.6,136.61 L148.4,137.00 L149.2,137.03 L150.0,137.36 L150.8,136.43 L151.6,137.00 L152.4,136.41 L153.2,136.97 L154.0,136.99 L154.8,137.09 L155.6,137.24 L156.4,136.48 L157.2,137.23 L158.0,136.61 L158.8,136.68 L159.6,136.33 L160.4,136.84 L161.2,136.20 L162.0,136.57 L162.8,137.01 L163.6,137.10 L164.4,136.40" fill="none" stroke="#4a4aff" stroke-width="0.85" stroke-dasharray="1.0 0.7" opacity="0.68"/>
<path d="M60.70,136.8 L61.40,134.80 L61.95,136.8 L62.60,138.30 L63.30,136.8 M81.30,136.8 L82.00,134.80 L82.55,136.8 L83.20,137.80 L83.90,136.8 M95.90,136.8 L96.60,134.80 L97.15,136.8 L97.80,137.30 L98.50,136.8 M137.30,136.8 L138.00,131.80 L138.55,136.8 L139.20,137.80 L139.90,136.8 M159.20,136.8 L159.90,133.80 L160.45,136.8 L161.10,139.80 L161.80,136.8" fill="none" stroke="#4a4aff" stroke-width="0.65" opacity="0.72" stroke-dasharray="1.3 0.6" stroke-linejoin="round"/>
<path d="M165,136.8 H185" stroke="#4a4aff" stroke-width="0.95" stroke-dasharray="1.2 1.0" opacity="0.75" fill="none"/>
<path d="M185,136.8 H211.2" stroke="#4a4aff" stroke-width="1" stroke-dasharray="3 2.3" opacity="0.8" fill="none"/>
</g>
<rect x="31.55" y="4.35" width="185.00" height="138.05" fill="none" stroke="#6a6a6a" stroke-width="1"/>
<path d="M31.55,137.10h2.6 M31.55,126.00h1.4 M31.55,114.90h2.6 M31.55,103.80h1.4 M31.55,92.70h2.6 M31.55,81.60h1.4 M31.55,70.50h2.6 M31.55,59.40h1.4 M31.55,48.30h2.6 M31.55,37.20h1.4 M31.55,26.10h2.6 M31.55,15.00h1.4 M43.50,142.4v-2.6 M55.36,142.4v-1.4 M67.22,142.4v-2.6 M79.07,142.4v-1.4 M90.93,142.4v-2.6 M102.79,142.4v-1.4 M114.64,142.4v-2.6 M126.50,142.4v-1.4 M138.36,142.4v-2.6 M150.22,142.4v-1.4 M162.07,142.4v-2.6 M173.93,142.4v-1.4 M185.79,142.4v-2.6 M197.65,142.4v-1.4 M209.50,142.4v-2.6" stroke="#3a3a3a" stroke-width="0.9" fill="none"/>
<text x="28.6" y="140.45" text-anchor="end" class="t" font-size="10.0" stroke="#000">-20</text>
<text x="28.6" y="118.25" text-anchor="end" class="t" font-size="10.0" stroke="#000">0</text>
<text x="28.6" y="96.05" text-anchor="end" class="t" font-size="10.0" stroke="#000">20</text>
<text x="28.6" y="73.85" text-anchor="end" class="t" font-size="10.0" stroke="#000">40</text>
<text x="28.6" y="51.65" text-anchor="end" class="t" font-size="10.0" stroke="#000">60</text>
<text x="28.6" y="29.45" text-anchor="end" class="t" font-size="10.0" stroke="#000">80</text>
<text x="28.6" y="8.05" text-anchor="end" class="t" font-size="10.0" stroke="#000">100</text>
<text x="43.60" y="153.6" text-anchor="middle" class="t" font-size="10.15" stroke="#000">0.6</text>
<text x="67.31" y="153.6" text-anchor="middle" class="t" font-size="10.15" stroke="#000">0.9</text>
<text x="91.03" y="153.6" text-anchor="middle" class="t" font-size="10.15" stroke="#000">1.2</text>
<text x="114.74" y="153.6" text-anchor="middle" class="t" font-size="10.15" stroke="#000">1.5</text>
<text x="138.46" y="153.6" text-anchor="middle" class="t" font-size="10.15" stroke="#000">1.8</text>
<text x="162.17" y="153.6" text-anchor="middle" class="t" font-size="10.15" stroke="#000">2.1</text>
<text x="185.89" y="153.6" text-anchor="middle" class="t" font-size="10.15" stroke="#000">2.4</text>
<text x="209.60" y="153.6" text-anchor="middle" class="t" font-size="10.15" stroke="#000">2.7</text>
<text x="124.5" y="169.2" text-anchor="middle" class="t" font-size="10.05" stroke="#000">d-spacing (<tspan font-weight="normal" font-size="8.2" fill="#333" stroke="#333" stroke-width="0.15" textLength="4.3" lengthAdjust="spacingAndGlyphs" dx="0.2">A</tspan><tspan dx="0.2">)</tspan></text>
<text transform="translate(9.4,72.9) rotate(-90)" text-anchor="middle" class="t" font-size="10.3" stroke="#000">Intensity (a.u.)</text>
<text x="40.30" y="22.0" font-family="Liberation Serif, serif" font-weight="bold" font-size="18.9">c</text>
<text x="68.4" y="25.25" class="t" font-size="10.2" fill="#ff0000" stroke="#ff0000">Neutron profile</text>
<text x="68.4" y="37.5" class="t" font-size="10.2" fill="#000" stroke="#000">Fitted profile</text>
<text x="68.4" y="49.85" class="t" font-size="10.2" fill="#0000ff" stroke="#0000ff">Residual</text>
<text x="68.4" y="62.25" class="t" font-size="10.2" fill="#0a960a" stroke="#0a960a">Bragg_position</text>
<rect x="57.1" y="22.0" width="1.6" height="1.6" fill="#ff0000"/>
<path d="M50.1,35.45 H65.4" stroke="#2a2a2a" stroke-width="0.8"/>
<path d="M50.1,47.9 H65.4" stroke="#a4a4ff" stroke-width="1.15" stroke-dasharray="3.3 2.2" opacity="0.9"/>
<rect x="57.5" y="58" width="1" height="4.8" fill="#7cc47c" opacity="0.8"/>
</g>
<g transform="translate(-0.3,181.8)">
<g transform="translate(0,0)">
<polygon points="42.34,114.10 42.39,114.08 42.47,114.04 42.56,113.98 42.64,113.91 42.72,113.82 42.79,113.73 42.85,113.63 42.91,113.51 42.96,113.39 43.01,113.26 43.05,113.12 43.09,112.98 43.13,112.82 43.17,112.66 43.21,112.49 43.25,112.32 43.30,112.14 43.40,111.95 43.40,111.95 43.50,112.14 43.55,112.32 43.59,112.49 43.63,112.66 43.67,112.82 43.71,112.98 43.75,113.12 43.79,113.26 43.84,113.39 43.89,113.51 43.95,113.63 44.01,113.73 44.08,113.82 44.16,113.91 44.24,113.98 44.33,114.04 44.41,114.08 44.46,114.10" fill="#e60000" stroke="#e60000" stroke-width="0.9" stroke-linejoin="round" opacity="0.85"/>
<polygon points="43.13,114.10 43.14,114.09 43.16,114.07 43.18,114.05 43.20,114.01 43.22,113.98 43.24,113.94 43.27,113.89 43.29,113.84 43.31,113.79 43.33,113.73 43.35,113.67 43.36,113.60 43.38,113.54 43.40,113.46 43.42,113.39 43.44,113.31 43.47,113.23 43.52,113.15 43.52,113.15 43.57,113.23 43.60,113.31 43.62,113.39 43.64,113.46 43.66,113.54 43.68,113.60 43.69,113.67 43.71,113.73 43.73,113.79 43.75,113.84 43.77,113.89 43.80,113.94 43.82,113.98 43.84,114.01 43.86,114.05 43.88,114.07 43.90,114.09 43.91,114.10" fill="#200000" stroke="#200000" stroke-width="0.62" stroke-linejoin="round"/>
<polygon points="49.33,114.10 49.47,114.05 49.66,113.96 49.84,113.83 49.99,113.67 50.11,113.49 50.21,113.28 50.29,113.05 50.36,112.80 50.42,112.53 50.48,112.25 50.53,111.94 50.57,111.62 50.61,111.28 50.66,110.92 50.70,110.55 50.74,110.17 50.79,109.77 50.90,109.35 50.90,109.35 51.01,109.77 51.06,110.17 51.10,110.55 51.14,110.92 51.19,111.28 51.23,111.62 51.27,111.94 51.32,112.25 51.38,112.53 51.44,112.80 51.51,113.05 51.59,113.28 51.69,113.49 51.81,113.67 51.96,113.83 52.14,113.96 52.33,114.05 52.47,114.10" fill="#e60000" stroke="#e60000" stroke-width="0.9" stroke-linejoin="round" opacity="0.85"/>
<polygon points="50.36,114.10 50.39,114.07 50.45,114.02 50.51,113.94 50.57,113.85 50.62,113.75 50.67,113.63 50.70,113.49 50.74,113.35 50.77,113.19 50.79,113.03 50.82,112.85 50.84,112.66 50.87,112.47 50.89,112.26 50.91,112.05 50.93,111.82 50.96,111.59 51.02,111.35 51.02,111.35 51.08,111.59 51.11,111.82 51.13,112.05 51.15,112.26 51.17,112.47 51.20,112.66 51.22,112.85 51.25,113.03 51.27,113.19 51.30,113.35 51.34,113.49 51.37,113.63 51.42,113.75 51.47,113.85 51.53,113.94 51.59,114.02 51.65,114.07 51.68,114.10" fill="#200000" stroke="#200000" stroke-width="0.62" stroke-linejoin="round"/>
<polygon points="52.86,114.10 52.94,114.07 53.05,114.01 53.17,113.93 53.28,113.83 53.37,113.72 53.45,113.59 53.52,113.45 53.59,113.29 53.64,113.13 53.69,112.95 53.74,112.76 53.78,112.56 53.82,112.35 53.86,112.13 53.90,111.90 53.94,111.66 53.99,111.41 54.10,111.15 54.10,111.15 54.21,111.41 54.26,111.66 54.30,111.90 54.34,112.13 54.38,112.35 54.42,112.56 54.46,112.76 54.51,112.95 54.56,113.13 54.61,113.29 54.68,113.45 54.75,113.59 54.83,113.72 54.92,113.83 55.03,113.93 55.15,114.01 55.26,114.07 55.34,114.10" fill="#e60000" stroke="#e60000" stroke-width="0.9" stroke-linejoin="round" opacity="0.85"/>
<polygon points="53.70,114.10 53.72,114.08 53.75,114.05 53.79,114.01 53.83,113.95 53.87,113.88 53.90,113.81 53.93,113.73 53.96,113.64 53.98,113.55 54.01,113.45 54.03,113.34 54.05,113.23 54.07,113.11 54.09,112.98 54.11,112.85 54.14,112.72 54.16,112.58 54.22,112.43 54.22,112.43 54.28,112.58 54.30,112.72 54.33,112.85 54.35,112.98 54.37,113.11 54.39,113.23 54.41,113.34 54.43,113.45 54.46,113.55 54.48,113.64 54.51,113.73 54.54,113.81 54.57,113.88 54.61,113.95 54.65,114.01 54.69,114.05 54.72,114.08 54.74,114.10" fill="#200000" stroke="#200000" stroke-width="0.62" stroke-linejoin="round"/>
<polygon points="59.53,114.10 59.67,114.05 59.86,113.96 60.04,113.83 60.19,113.67 60.31,113.49 60.41,113.28 60.49,113.05 60.56,112.80 60.62,112.53 60.68,112.25 60.73,111.94 60.77,111.62 60.81,111.28 60.86,110.92 60.90,110.55 60.94,110.17 60.99,109.77 61.10,109.35 61.10,109.35 61.21,109.77 61.26,110.17 61.30,110.55 61.34,110.92 61.39,111.28 61.43,111.62 61.47,111.94 61.52,112.25 61.58,112.53 61.64,112.80 61.71,113.05 61.79,113.28 61.89,113.49 62.01,113.67 62.16,113.83 62.34,113.96 62.53,114.05 62.67,114.10" fill="#e60000" stroke="#e60000" stroke-width="0.9" stroke-linejoin="round" opacity="0.85"/>
<polygon points="60.56,114.10 60.59,114.07 60.65,114.02 60.71,113.94 60.77,113.85 60.82,113.75 60.87,113.63 60.90,113.49 60.94,113.35 60.97,113.19 60.99,113.03 61.02,112.85 61.04,112.66 61.07,112.47 61.09,112.26 61.11,112.05 61.13,111.82 61.16,111.59 61.22,111.35 61.22,111.35 61.28,111.59 61.31,111.82 61.33,112.05 61.35,112.26 61.37,112.47 61.40,112.66 61.42,112.85 61.45,113.03 61.47,113.19 61.50,113.35 61.54,113.49 61.57,113.63 61.62,113.75 61.67,113.85 61.73,113.94 61.79,114.02 61.85,114.07 61.88,114.10" fill="#200000" stroke="#200000" stroke-width="0.62" stroke-linejoin="round"/>
<polygon points="66.46,114.10 66.54,114.07 66.65,114.01 66.77,113.93 66.88,113.83 66.97,113.72 67.05,113.59 67.12,113.45 67.19,113.29 67.24,113.13 67.29,112.95 67.34,112.76 67.38,112.56 67.42,112.35 67.46,112.13 67.50,111.90 67.54,111.66 67.59,111.41 67.70,111.15 67.70,111.15 67.81,111.41 67.86,111.66 67.90,111.90 67.94,112.13 67.98,112.35 68.02,112.56 68.06,112.76 68.11,112.95 68.16,113.13 68.21,113.29 68.28,113.45 68.35,113.59 68.43,113.72 68.52,113.83 68.63,113.93 68.75,114.01 68.86,114.07 68.94,114.10" fill="#e60000" stroke="#e60000" stroke-width="0.9" stroke-linejoin="round" opacity="0.85"/>
<polygon points="67.30,114.10 67.32,114.08 67.35,114.05 67.39,114.01 67.43,113.95 67.47,113.88 67.50,113.81 67.53,113.73 67.56,113.64 67.58,113.55 67.61,113.45 67.63,113.34 67.65,113.23 67.67,113.11 67.69,112.98 67.71,112.85 67.74,112.72 67.76,112.58 67.82,112.43 67.82,112.43 67.88,112.58 67.90,112.72 67.93,112.85 67.95,112.98 67.97,113.11 67.99,113.23 68.01,113.34 68.03,113.45 68.06,113.55 68.08,113.64 68.11,113.73 68.14,113.81 68.17,113.88 68.21,113.95 68.25,114.01 68.29,114.05 68.32,114.08 68.34,114.10" fill="#200000" stroke="#200000" stroke-width="0.62" stroke-linejoin="round"/>
<polygon points="76.55,114.10 76.88,113.96 77.21,113.68 77.42,113.30 77.56,112.83 77.66,112.29 77.74,111.68 77.80,111.00 77.85,110.26 77.89,109.47 77.93,108.61 77.96,107.71 77.99,106.76 78.02,105.75 78.05,104.70 78.07,103.60 78.10,102.46 78.13,101.28 78.20,100.05 78.20,100.05 78.27,101.28 78.30,102.46 78.33,103.60 78.35,104.70 78.38,105.75 78.41,106.76 78.44,107.71 78.47,108.61 78.51,109.47 78.55,110.26 78.60,111.00 78.66,111.68 78.74,112.29 78.84,112.83 78.98,113.30 79.19,113.68 79.52,113.96 79.85,114.10" fill="#e60000" stroke="#e60000" stroke-width="0.9" stroke-linejoin="round" opacity="0.85"/>
<polygon points="77.22,114.10 77.36,114.03 77.53,113.87 77.67,113.67 77.78,113.41 77.86,113.12 77.92,112.79 77.97,112.42 78.01,112.02 78.05,111.59 78.08,111.13 78.11,110.64 78.13,110.12 78.16,109.58 78.18,109.01 78.21,108.41 78.23,107.79 78.26,107.15 78.32,106.48 78.32,106.48 78.38,107.15 78.41,107.79 78.43,108.41 78.46,109.01 78.48,109.58 78.51,110.12 78.53,110.64 78.56,111.13 78.59,111.59 78.63,112.02 78.67,112.42 78.72,112.79 78.78,113.12 78.86,113.41 78.97,113.67 79.11,113.87 79.28,114.03 79.42,114.10" fill="#200000" stroke="#200000" stroke-width="0.62" stroke-linejoin="round"/>
<polygon points="80.65,114.10 80.76,114.06 80.93,113.98 81.08,113.87 81.22,113.73 81.33,113.58 81.42,113.40 81.50,113.21 81.57,112.99 81.63,112.76 81.68,112.52 81.73,112.26 81.77,111.98 81.82,111.69 81.86,111.39 81.90,111.07 81.94,110.75 81.99,110.40 82.10,110.05 82.10,110.05 82.21,110.40 82.26,110.75 82.30,111.07 82.34,111.39 82.38,111.69 82.43,111.98 82.47,112.26 82.52,112.52 82.57,112.76 82.63,112.99 82.70,113.21 82.78,113.40 82.87,113.58 82.98,113.73 83.12,113.87 83.27,113.98 83.44,114.06 83.55,114.10" fill="#e60000" stroke="#e60000" stroke-width="0.9" stroke-linejoin="round" opacity="0.85"/>
<polygon points="81.46,114.10 81.51,114.06 81.59,113.99 81.67,113.89 81.74,113.77 81.80,113.63 81.85,113.48 81.89,113.30 81.93,113.11 81.96,112.91 81.99,112.69 82.02,112.45 82.04,112.21 82.06,111.95 82.09,111.68 82.11,111.40 82.13,111.10 82.16,110.80 82.22,110.48 82.22,110.48 82.28,110.80 82.31,111.10 82.33,111.40 82.35,111.68 82.38,111.95 82.40,112.21 82.42,112.45 82.45,112.69 82.48,112.91 82.51,113.11 82.55,113.30 82.59,113.48 82.64,113.63 82.70,113.77 82.77,113.89 82.85,113.99 82.93,114.06 82.98,114.10" fill="#200000" stroke="#200000" stroke-width="0.62" stroke-linejoin="round"/>
<polygon points="95.31,114.10 95.45,114.05 95.66,113.96 95.84,113.82 95.99,113.66 96.11,113.48 96.21,113.26 96.29,113.03 96.36,112.77 96.42,112.50 96.48,112.21 96.53,111.89 96.57,111.56 96.61,111.22 96.66,110.86 96.70,110.48 96.74,110.08 96.79,109.67 96.90,109.25 96.90,109.25 97.01,109.67 97.06,110.08 97.10,110.48 97.14,110.86 97.19,111.22 97.23,111.56 97.27,111.89 97.32,112.21 97.38,112.50 97.44,112.77 97.51,113.03 97.59,113.26 97.69,113.48 97.81,113.66 97.96,113.82 98.14,113.96 98.35,114.05 98.49,114.10" fill="#e60000" stroke="#e60000" stroke-width="0.9" stroke-linejoin="round" opacity="0.85"/>
<polygon points="96.29,114.10 96.34,114.07 96.41,114.00 96.49,113.91 96.55,113.80 96.61,113.67 96.65,113.53 96.70,113.37 96.73,113.19 96.76,113.00 96.79,112.80 96.82,112.59 96.84,112.36 96.86,112.13 96.89,111.88 96.91,111.62 96.93,111.35 96.96,111.07 97.02,110.78 97.02,110.78 97.08,111.07 97.11,111.35 97.13,111.62 97.15,111.88 97.18,112.13 97.20,112.36 97.22,112.59 97.25,112.80 97.28,113.00 97.31,113.19 97.34,113.37 97.39,113.53 97.43,113.67 97.49,113.80 97.55,113.91 97.63,114.00 97.70,114.07 97.75,114.10" fill="#200000" stroke="#200000" stroke-width="0.62" stroke-linejoin="round"/>
<polygon points="134.80,114.10 134.81,113.96 135.69,113.69 136.27,113.31 136.66,112.84 136.94,112.30 137.15,111.69 137.32,111.02 137.45,110.29 137.57,109.50 137.67,108.65 137.76,107.76 137.84,106.81 137.91,105.81 137.98,104.77 138.05,103.68 138.13,102.55 138.22,101.37 138.40,100.15 138.40,100.15 138.58,101.37 138.67,102.55 138.75,103.68 138.82,104.77 138.89,105.81 138.96,106.81 139.04,107.76 139.13,108.65 139.23,109.50 139.35,110.29 139.48,111.02 139.65,111.69 139.86,112.30 140.14,112.84 140.53,113.31 141.11,113.69 141.99,113.96 142.00,114.10" fill="#e60000" stroke="#e60000" stroke-width="1.0" stroke-linejoin="round" opacity="0.85"/>
<polygon points="137.47,114.10 137.60,114.03 137.75,113.90 137.88,113.71 137.98,113.48 138.06,113.22 138.12,112.92 138.17,112.59 138.21,112.23 138.25,111.84 138.28,111.43 138.31,110.98 138.34,110.52 138.36,110.03 138.38,109.52 138.41,108.98 138.43,108.43 138.46,107.85 138.52,107.25 138.52,107.25 138.58,107.85 138.61,108.43 138.63,108.98 138.66,109.52 138.68,110.03 138.70,110.52 138.73,110.98 138.76,111.43 138.79,111.84 138.83,112.23 138.87,112.59 138.92,112.92 138.98,113.22 139.06,113.48 139.16,113.71 139.29,113.90 139.44,114.03 139.57,114.10" fill="#200000" stroke="#200000" stroke-width="0.62" stroke-linejoin="round"/>
<polygon points="156.60,114.10 156.69,113.25 158.11,111.52 158.73,109.17 159.09,106.28 159.32,102.93 159.49,99.14 159.62,94.96 159.72,90.40 159.80,85.48 159.88,80.23 159.94,74.65 160.00,68.76 160.05,62.56 160.11,56.07 160.16,49.30 160.21,42.25 160.27,34.93 160.40,27.35 160.40,27.35 160.53,34.93 160.59,42.25 160.64,49.30 160.69,56.07 160.75,62.56 160.80,68.76 160.86,74.65 160.92,80.23 161.00,85.48 161.08,90.40 161.18,94.96 161.31,99.14 161.48,102.93 161.71,106.28 162.07,109.17 162.69,111.52 164.11,113.25 164.20,114.10" fill="#e00000" fill-opacity="0.6" stroke="#e00000" stroke-width="0.8" stroke-linejoin="round" opacity="0.95"/>
<g fill="#ee0000"><rect x="159.15" y="110.12" width="1.4" height="1.4"/><rect x="160.25" y="108.24" width="1.4" height="1.4"/><rect x="159.15" y="107.10" width="1.4" height="1.4"/><rect x="159.15" y="105.04" width="1.4" height="1.4"/><rect x="160.25" y="103.04" width="1.4" height="1.4"/><rect x="159.15" y="101.44" width="1.4" height="1.4"/><rect x="160.25" y="99.40" width="1.4" height="1.4"/><rect x="159.15" y="97.32" width="1.4" height="1.4"/><rect x="160.25" y="97.32" width="1.4" height="1.4"/><rect x="159.15" y="95.44" width="1.4" height="1.4"/><rect x="160.25" y="95.93" width="1.4" height="1.4"/><rect x="159.15" y="93.73" width="1.4" height="1.4"/><rect x="160.25" y="93.48" width="1.4" height="1.4"/><rect x="159.15" y="91.82" width="1.4" height="1.4"/><rect x="160.25" y="87.14" width="1.4" height="1.4"/><rect x="160.25" y="76.06" width="1.4" height="1.4"/><rect x="159.15" y="70.72" width="1.4" height="1.4"/><rect x="160.25" y="68.13" width="1.4" height="1.4"/><rect x="159.15" y="59.98" width="1.4" height="1.4"/><rect x="159.15" y="54.20" width="1.4" height="1.4"/><rect x="159.15" y="38.54" width="1.4" height="1.4"/><rect x="160.25" y="38.83" width="1.4" height="1.4"/><rect x="159.15" y="31.47" width="1.4" height="1.4"/><rect x="160.25" y="31.46" width="1.4" height="1.4"/><rect x="159.15" y="27.88" width="1.4" height="1.4"/><rect x="160.25" y="28.12" width="1.4" height="1.4"/></g>
<rect x="159.75" y="27.35" width="1.3" height="8.09" fill="#e80000"/>
<rect x="159.95" y="33.44" width="0.8" height="64.91" fill="#161616"/>
<rect x="160.20" y="97.85" width="0.7" height="15.5" fill="#400000"/>
<rect x="38.8" y="113.55" width="171.90" height="0.9" fill="#d40000"/>
<rect x="39.3" y="114.15" width="170.90" height="1.0" fill="#560000"/>
<rect x="188" y="112.65" width="1.3" height="0.7" fill="#e00000" opacity="0.7"/>
<rect x="193" y="112.65" width="1.3" height="0.7" fill="#e00000" opacity="0.7"/>
<rect x="197" y="112.65" width="1.3" height="0.7" fill="#e00000" opacity="0.7"/>
<rect x="200.5" y="112.65" width="1.3" height="0.7" fill="#e00000" opacity="0.7"/>
<rect x="203" y="112.65" width="1.3" height="0.7" fill="#e00000" opacity="0.7"/>
<rect x="205.5" y="112.65" width="1.3" height="0.7" fill="#e00000" opacity="0.7"/>
<rect x="35.15" y="118.2" width="1.1" height="4.3" fill="#2fa52f" opacity="0.7"/>
<rect x="37.15" y="118.2" width="1.1" height="4.3" fill="#2fa52f" opacity="0.7"/>
<rect x="38.05" y="118.2" width="1.1" height="4.3" fill="#2fa52f" opacity="0.7"/>
<rect x="38.95" y="118.2" width="1.1" height="4.3" fill="#2fa52f" opacity="0.7"/>
<rect x="40.95" y="118.2" width="1.1" height="4.3" fill="#2fa52f" opacity="0.7"/>
<rect x="42.85" y="118.2" width="1.1" height="4.3" fill="#2fa52f" opacity="0.7"/>
<rect x="43.75" y="118.2" width="1.1" height="4.3" fill="#2fa52f" opacity="0.7"/>
<rect x="45.95" y="118.2" width="1.1" height="4.3" fill="#2fa52f" opacity="0.7"/>
<rect x="50.25" y="118.2" width="1.1" height="4.3" fill="#2fa52f" opacity="0.7"/>
<rect x="52.95" y="118.2" width="1.1" height="4.3" fill="#2fa52f" opacity="0.7"/>
<rect x="54.05" y="118.2" width="1.1" height="4.3" fill="#2fa52f" opacity="0.7"/>
<rect x="59.35" y="118.2" width="1.1" height="4.3" fill="#2fa52f" opacity="0.7"/>
<rect x="60.95" y="118.2" width="1.1" height="4.3" fill="#2fa52f" opacity="0.7"/>
<rect x="67.15" y="118.2" width="1.1" height="4.3" fill="#2fa52f" opacity="0.7"/>
<rect x="77.85" y="118.2" width="1.1" height="4.3" fill="#2fa52f" opacity="0.7"/>
<rect x="81.35" y="118.2" width="1.1" height="4.3" fill="#2fa52f" opacity="0.7"/>
<rect x="96.35" y="118.2" width="1.1" height="4.3" fill="#2fa52f" opacity="0.7"/>
<rect x="138.05" y="118.2" width="1.1" height="4.3" fill="#2fa52f" opacity="0.7"/>
<rect x="159.95" y="118.2" width="1.1" height="4.3" fill="#2fa52f" opacity="0.7"/>
<path d="M38.8,135.37 L39.6,135.75 L40.4,136.12 L41.2,136.05 L42.0,136.08 L42.8,135.72 L43.6,136.16 L44.4,135.84 L45.2,135.30 L46.0,135.75 L46.8,135.26 L47.6,136.32 L48.4,136.34 L49.2,135.60 L50.0,135.57 L50.8,136.12 L51.6,135.44 L52.4,135.41 L53.2,135.43 L54.0,135.62 L54.8,135.95 L55.6,136.36 L56.4,135.45 L57.2,136.35 L58.0,135.87 L58.8,136.28 L59.6,136.18 L60.4,135.39 L61.2,135.98 L62.0,135.35 L62.8,135.21 L63.6,135.67 L64.4,136.13 L65.2,135.88 L66.0,135.43 L66.8,136.21 L67.6,136.30 L68.4,135.48 L69.2,135.74 L70.0,135.97 L70.8,136.28 L71.6,135.35 L72.4,135.86 L73.2,136.36 L74.0,135.93 L74.8,136.06 L75.6,136.13 L76.4,135.81 L77.2,135.55 L78.0,135.91 L78.8,135.83 L79.6,135.61 L80.4,136.23 L81.2,135.64 L82.0,135.78 L82.8,136.11 L83.6,136.18 L84.4,136.27 L85.2,135.98 L86.0,135.50 L86.8,136.22 L87.6,136.29 L88.4,136.06 L89.2,136.12 L90.0,135.82 L90.8,135.79 L91.6,135.90 L92.4,135.38 L93.2,136.01 L94.0,136.23 L94.8,135.40 L95.6,136.10 L96.4,136.05 L97.2,135.35 L98.0,135.26 L98.8,135.91 L99.6,135.46 L100.4,135.57 L101.2,135.95 L102.0,135.98 L102.8,136.10 L103.6,135.88 L104.4,135.60 L105.2,135.22 L106.0,135.34 L106.8,135.43 L107.6,135.83 L108.4,136.06 L109.2,135.45 L110.0,135.67 L110.8,136.32 L111.6,135.68 L112.4,136.06 L113.2,135.94 L114.0,135.99 L114.8,135.77 L115.6,135.85 L116.4,136.04 L117.2,135.39 L118.0,136.16 L118.8,136.25 L119.6,135.26 L120.4,135.44 L121.2,135.50 L122.0,135.31 L122.8,135.37 L123.6,135.97 L124.4,135.35 L125.2,135.28 L126.0,136.33 L126.8,135.68 L127.6,135.85 L128.4,135.77 L129.2,135.61 L130.0,135.75 L130.8,135.43 L131.6,135.90 L132.4,135.50 L133.2,135.37 L134.0,135.45 L134.8,135.70 L135.6,136.32 L136.4,135.92 L137.2,136.38 L138.0,135.68 L138.8,135.51 L139.6,136.05 L140.4,135.43 L141.2,136.40 L142.0,135.67 L142.8,135.53 L143.6,135.53 L144.4,135.57 L145.2,136.32 L146.0,136.39 L146.8,135.87 L147.6,135.48 L148.4,135.21 L149.2,135.30 L150.0,135.56 L150.8,135.97 L151.6,135.95 L152.4,136.22 L153.2,136.19 L154.0,135.62 L154.8,136.01 L155.6,135.73 L156.4,136.07 L157.2,135.42 L158.0,136.37 L158.8,135.23 L159.6,135.94 L160.4,135.62 L161.2,136.16 L162.0,135.37 L162.8,136.27 L163.6,135.20 L164.4,136.08" fill="none" stroke="#4a4aff" stroke-width="0.85" stroke-dasharray="1.0 0.7" opacity="0.68"/>
<path d="M77.40,135.8 L78.10,131.80 L78.65,135.8 L79.30,136.80 L80.00,135.8 M81.30,135.8 L82.00,134.80 L82.55,135.8 L83.20,137.30 L83.90,135.8 M137.70,135.8 L138.40,124.80 L138.95,135.8 L139.60,137.80 L140.30,135.8 M159.50,135.8 L160.20,131.80 L160.75,135.8 L161.40,137.30 L162.10,135.8" fill="none" stroke="#4a4aff" stroke-width="0.65" opacity="0.72" stroke-dasharray="1.3 0.6" stroke-linejoin="round"/>
<path d="M165,135.8 H185" stroke="#4a4aff" stroke-width="0.95" stroke-dasharray="1.2 1.0" opacity="0.75" fill="none"/>
<path d="M185,135.8 H211.2" stroke="#4a4aff" stroke-width="1" stroke-dasharray="3 2.3" opacity="0.8" fill="none"/>
</g>
<rect x="31.55" y="4.35" width="186.00" height="138.05" fill="none" stroke="#6a6a6a" stroke-width="1"/>
<path d="M31.55,137.10h2.6 M31.55,126.00h1.4 M31.55,114.90h2.6 M31.55,103.80h1.4 M31.55,92.70h2.6 M31.55,81.60h1.4 M31.55,70.50h2.6 M31.55,59.40h1.4 M31.55,48.30h2.6 M31.55,37.20h1.4 M31.55,26.10h2.6 M31.55,15.00h1.4 M43.50,142.4v-2.6 M55.36,142.4v-1.4 M67.22,142.4v-2.6 M79.07,142.4v-1.4 M90.93,142.4v-2.6 M102.79,142.4v-1.4 M114.64,142.4v-2.6 M126.50,142.4v-1.4 M138.36,142.4v-2.6 M150.22,142.4v-1.4 M162.07,142.4v-2.6 M173.93,142.4v-1.4 M185.79,142.4v-2.6 M197.65,142.4v-1.4 M209.50,142.4v-2.6" stroke="#3a3a3a" stroke-width="0.9" fill="none"/>
<text x="28.6" y="140.45" text-anchor="end" class="t" font-size="10.0" stroke="#000">-20</text>
<text x="28.6" y="118.25" text-anchor="end" class="t" font-size="10.0" stroke="#000">0</text>
<text x="28.6" y="96.05" text-anchor="end" class="t" font-size="10.0" stroke="#000">20</text>
<text x="28.6" y="73.85" text-anchor="end" class="t" font-size="10.0" stroke="#000">40</text>
<text x="28.6" y="51.65" text-anchor="end" class="t" font-size="10.0" stroke="#000">60</text>
<text x="28.6" y="29.45" text-anchor="end" class="t" font-size="10.0" stroke="#000">80</text>
<text x="28.6" y="8.05" text-anchor="end" class="t" font-size="10.0" stroke="#000">100</text>
<text x="43.60" y="153.6" text-anchor="middle" class="t" font-size="10.15" stroke="#000">0.6</text>
<text x="67.31" y="153.6" text-anchor="middle" class="t" font-size="10.15" stroke="#000">0.9</text>
<text x="91.03" y="153.6" text-anchor="middle" class="t" font-size="10.15" stroke="#000">1.2</text>
<text x="114.74" y="153.6" text-anchor="middle" class="t" font-size="10.15" stroke="#000">1.5</text>
<text x="138.46" y="153.6" text-anchor="middle" class="t" font-size="10.15" stroke="#000">1.8</text>
<text x="162.17" y="153.6" text-anchor="middle" class="t" font-size="10.15" stroke="#000">2.1</text>
<text x="185.89" y="153.6" text-anchor="middle" class="t" font-size="10.15" stroke="#000">2.4</text>
<text x="209.60" y="153.6" text-anchor="middle" class="t" font-size="10.15" stroke="#000">2.7</text>
<text x="124.5" y="169.2" text-anchor="middle" class="t" font-size="10.05" stroke="#000">d-spacing (<tspan font-weight="normal" font-size="8.2" fill="#333" stroke="#333" stroke-width="0.15" textLength="4.3" lengthAdjust="spacingAndGlyphs" dx="0.2">A</tspan><tspan dx="0.2">)</tspan></text>
<text transform="translate(9.4,72.9) rotate(-90)" text-anchor="middle" class="t" font-size="10.3" stroke="#000">Intensity (a.u.)</text>
<text x="40.10" y="22.0" font-family="Liberation Serif, serif" font-weight="bold" font-size="18.9">d</text>
<text x="68.4" y="25.25" class="t" font-size="10.2" fill="#ff0000" stroke="#ff0000">Neutron profile</text>
<text x="68.4" y="37.5" class="t" font-size="10.2" fill="#000" stroke="#000">Fitted profile</text>
<text x="68.4" y="49.85" class="t" font-size="10.2" fill="#0000ff" stroke="#0000ff">Residual</text>
<text x="68.4" y="62.25" class="t" font-size="10.2" fill="#0a960a" stroke="#0a960a">Bragg_position</text>
<rect x="57.1" y="22.0" width="1.6" height="1.6" fill="#ff0000"/>
<path d="M50.1,35.7 H65.4" stroke="#2a2a2a" stroke-width="0.8"/>
<path d="M50.1,47.7 H65.4" stroke="#7a7aff" stroke-width="0.95" stroke-dasharray="3.3 2.2" opacity="0.9"/>
<rect x="57.5" y="58" width="1" height="4.8" fill="#7cc47c" opacity="0.8"/>
</g>
<g transform="translate(234.6,181.8)">
<g transform="translate(-0.6,0)">
<polygon points="39.70,114.10 39.72,114.09 39.76,114.06 39.81,114.03 39.86,113.99 39.91,113.94 39.96,113.88 40.01,113.82 40.05,113.76 40.10,113.69 40.13,113.61 40.17,113.53 40.21,113.45 40.24,113.36 40.28,113.26 40.31,113.17 40.35,113.06 40.40,112.96 40.50,112.85 40.50,112.85 40.60,112.96 40.65,113.06 40.69,113.17 40.72,113.26 40.76,113.36 40.79,113.45 40.83,113.53 40.87,113.61 40.90,113.69 40.95,113.76 40.99,113.82 41.04,113.88 41.09,113.94 41.14,113.99 41.19,114.03 41.24,114.06 41.28,114.09 41.30,114.10" fill="#e60000" stroke="#e60000" stroke-width="0.9" stroke-linejoin="round" opacity="0.85"/>
<polygon points="40.34,114.10 40.34,114.10 40.35,114.09 40.36,114.07 40.37,114.05 40.38,114.04 40.40,114.01 40.41,113.99 40.43,113.96 40.44,113.94 40.45,113.90 40.47,113.87 40.48,113.84 40.50,113.80 40.51,113.77 40.53,113.73 40.55,113.69 40.57,113.64 40.62,113.60 40.62,113.60 40.67,113.64 40.69,113.69 40.71,113.73 40.73,113.77 40.74,113.80 40.76,113.84 40.77,113.87 40.79,113.90 40.80,113.94 40.81,113.96 40.83,113.99 40.84,114.01 40.86,114.04 40.87,114.05 40.88,114.07 40.89,114.09 40.90,114.10 40.90,114.10" fill="#200000" stroke="#200000" stroke-width="0.62" stroke-linejoin="round"/>
<polygon points="43.55,114.10 43.58,114.08 43.65,114.05 43.72,114.00 43.79,113.94 43.86,113.87 43.92,113.80 43.97,113.71 44.02,113.62 44.07,113.52 44.12,113.42 44.16,113.30 44.20,113.19 44.23,113.06 44.27,112.93 44.31,112.79 44.35,112.65 44.40,112.50 44.50,112.35 44.50,112.35 44.60,112.50 44.65,112.65 44.69,112.79 44.73,112.93 44.77,113.06 44.80,113.19 44.84,113.30 44.88,113.42 44.93,113.52 44.98,113.62 45.03,113.71 45.08,113.80 45.14,113.87 45.21,113.94 45.28,114.00 45.35,114.05 45.42,114.08 45.45,114.10" fill="#e60000" stroke="#e60000" stroke-width="0.9" stroke-linejoin="round" opacity="0.85"/>
<polygon points="44.27,114.10 44.28,114.09 44.29,114.08 44.31,114.06 44.33,114.03 44.35,114.00 44.36,113.97 44.38,113.93 44.40,113.90 44.42,113.85 44.44,113.81 44.45,113.76 44.47,113.71 44.49,113.65 44.51,113.60 44.52,113.54 44.54,113.48 44.57,113.42 44.62,113.35 44.62,113.35 44.67,113.42 44.70,113.48 44.72,113.54 44.73,113.60 44.75,113.65 44.77,113.71 44.79,113.76 44.80,113.81 44.82,113.85 44.84,113.90 44.86,113.93 44.88,113.97 44.89,114.00 44.91,114.03 44.93,114.06 44.95,114.08 44.96,114.09 44.97,114.10" fill="#200000" stroke="#200000" stroke-width="0.62" stroke-linejoin="round"/>
<polygon points="49.90,114.10 50.02,114.06 50.20,113.97 50.37,113.85 50.51,113.71 50.62,113.54 50.72,113.35 50.80,113.14 50.87,112.91 50.93,112.67 50.98,112.40 51.03,112.12 51.07,111.83 51.12,111.52 51.16,111.19 51.20,110.85 51.24,110.50 51.29,110.13 51.40,109.75 51.40,109.75 51.51,110.13 51.56,110.50 51.60,110.85 51.64,111.19 51.68,111.52 51.73,111.83 51.77,112.12 51.82,112.40 51.87,112.67 51.93,112.91 52.00,113.14 52.08,113.35 52.18,113.54 52.29,113.71 52.43,113.85 52.60,113.97 52.78,114.06 52.90,114.10" fill="#e60000" stroke="#e60000" stroke-width="0.9" stroke-linejoin="round" opacity="0.85"/>
<polygon points="50.89,114.10 50.92,114.08 50.97,114.03 51.03,113.96 51.08,113.87 51.13,113.78 51.17,113.67 51.21,113.55 51.24,113.41 51.27,113.27 51.30,113.12 51.32,112.96 51.34,112.79 51.37,112.61 51.39,112.42 51.41,112.23 51.43,112.02 51.46,111.81 51.52,111.59 51.52,111.59 51.58,111.81 51.61,112.02 51.63,112.23 51.65,112.42 51.67,112.61 51.70,112.79 51.72,112.96 51.74,113.12 51.77,113.27 51.80,113.41 51.83,113.55 51.87,113.67 51.91,113.78 51.96,113.87 52.01,113.96 52.07,114.03 52.12,114.08 52.15,114.10" fill="#200000" stroke="#200000" stroke-width="0.62" stroke-linejoin="round"/>
<polygon points="53.85,114.10 53.88,114.08 53.95,114.05 54.02,114.00 54.09,113.94 54.16,113.87 54.22,113.80 54.27,113.71 54.32,113.62 54.37,113.52 54.42,113.42 54.46,113.30 54.50,113.19 54.53,113.06 54.57,112.93 54.61,112.79 54.65,112.65 54.70,112.50 54.80,112.35 54.80,112.35 54.90,112.50 54.95,112.65 54.99,112.79 55.03,112.93 55.07,113.06 55.10,113.19 55.14,113.30 55.18,113.42 55.23,113.52 55.28,113.62 55.33,113.71 55.38,113.80 55.44,113.87 55.51,113.94 55.58,114.00 55.65,114.05 55.72,114.08 55.75,114.10" fill="#e60000" stroke="#e60000" stroke-width="0.9" stroke-linejoin="round" opacity="0.85"/>
<polygon points="54.53,114.10 54.54,114.09 54.56,114.07 54.58,114.05 54.60,114.01 54.62,113.98 54.64,113.94 54.67,113.89 54.69,113.84 54.71,113.79 54.73,113.73 54.75,113.67 54.76,113.60 54.78,113.54 54.80,113.46 54.82,113.39 54.84,113.31 54.87,113.23 54.92,113.15 54.92,113.15 54.97,113.23 55.00,113.31 55.02,113.39 55.04,113.46 55.06,113.54 55.08,113.60 55.09,113.67 55.11,113.73 55.13,113.79 55.15,113.84 55.17,113.89 55.20,113.94 55.22,113.98 55.24,114.01 55.26,114.05 55.28,114.07 55.30,114.09 55.31,114.10" fill="#200000" stroke="#200000" stroke-width="0.62" stroke-linejoin="round"/>
<polygon points="60.66,114.10 60.75,114.07 60.89,114.00 61.03,113.90 61.15,113.79 61.25,113.66 61.34,113.51 61.41,113.34 61.48,113.16 61.54,112.96 61.59,112.75 61.63,112.53 61.68,112.30 61.72,112.05 61.76,111.79 61.80,111.52 61.84,111.24 61.89,110.95 62.00,110.65 62.00,110.65 62.11,110.95 62.16,111.24 62.20,111.52 62.24,111.79 62.28,112.05 62.32,112.30 62.37,112.53 62.41,112.75 62.46,112.96 62.52,113.16 62.59,113.34 62.66,113.51 62.75,113.66 62.85,113.79 62.97,113.90 63.11,114.00 63.25,114.07 63.34,114.10" fill="#e60000" stroke="#e60000" stroke-width="0.9" stroke-linejoin="round" opacity="0.85"/>
<polygon points="61.56,114.10 61.58,114.08 61.62,114.04 61.67,113.99 61.71,113.92 61.75,113.85 61.79,113.76 61.82,113.67 61.85,113.56 61.88,113.45 61.90,113.33 61.93,113.20 61.95,113.07 61.97,112.93 61.99,112.78 62.01,112.63 62.04,112.47 62.06,112.30 62.12,112.13 62.12,112.13 62.18,112.30 62.20,112.47 62.23,112.63 62.25,112.78 62.27,112.93 62.29,113.07 62.31,113.20 62.34,113.33 62.36,113.45 62.39,113.56 62.42,113.67 62.45,113.76 62.49,113.85 62.53,113.92 62.57,113.99 62.62,114.04 62.66,114.08 62.68,114.10" fill="#200000" stroke="#200000" stroke-width="0.62" stroke-linejoin="round"/>
<polygon points="67.17,114.10 67.23,114.08 67.32,114.03 67.42,113.96 67.52,113.88 67.60,113.78 67.67,113.68 67.74,113.56 67.80,113.43 67.85,113.29 67.90,113.14 67.94,112.99 67.99,112.82 68.03,112.64 68.06,112.46 68.10,112.27 68.15,112.07 68.19,111.86 68.30,111.65 68.30,111.65 68.41,111.86 68.45,112.07 68.50,112.27 68.54,112.46 68.57,112.64 68.61,112.82 68.66,112.99 68.70,113.14 68.75,113.29 68.80,113.43 68.86,113.56 68.93,113.68 69.00,113.78 69.08,113.88 69.18,113.96 69.28,114.03 69.37,114.08 69.43,114.10" fill="#e60000" stroke="#e60000" stroke-width="0.9" stroke-linejoin="round" opacity="0.85"/>
<polygon points="67.95,114.10 67.97,114.09 67.99,114.06 68.02,114.02 68.05,113.98 68.09,113.92 68.11,113.86 68.14,113.80 68.17,113.73 68.19,113.65 68.21,113.57 68.24,113.48 68.26,113.38 68.28,113.29 68.30,113.18 68.32,113.08 68.34,112.97 68.36,112.85 68.42,112.73 68.42,112.73 68.48,112.85 68.50,112.97 68.52,113.08 68.54,113.18 68.56,113.29 68.58,113.38 68.60,113.48 68.63,113.57 68.65,113.65 68.67,113.73 68.70,113.80 68.73,113.86 68.75,113.92 68.79,113.98 68.82,114.02 68.85,114.06 68.87,114.09 68.89,114.10" fill="#200000" stroke="#200000" stroke-width="0.62" stroke-linejoin="round"/>
<polygon points="77.57,114.10 77.84,113.97 78.11,113.72 78.30,113.37 78.42,112.94 78.52,112.44 78.58,111.88 78.64,111.26 78.68,110.59 78.72,109.86 78.76,109.08 78.79,108.26 78.81,107.38 78.84,106.47 78.86,105.50 78.89,104.50 78.91,103.46 78.94,102.37 79.00,101.25 79.00,101.25 79.06,102.37 79.09,103.46 79.11,104.50 79.14,105.50 79.16,106.47 79.19,107.38 79.21,108.26 79.24,109.08 79.28,109.86 79.32,110.59 79.36,111.26 79.42,111.88 79.48,112.44 79.58,112.94 79.70,113.37 79.89,113.72 80.16,113.97 80.43,114.10" fill="#e60000" stroke="#e60000" stroke-width="0.9" stroke-linejoin="round" opacity="0.85"/>
<polygon points="78.07,114.10 78.19,114.03 78.35,113.89 78.48,113.70 78.58,113.47 78.66,113.20 78.72,112.90 78.77,112.57 78.81,112.20 78.85,111.81 78.88,111.38 78.91,110.94 78.94,110.46 78.96,109.97 78.98,109.45 79.01,108.90 79.03,108.34 79.06,107.75 79.12,107.14 79.12,107.14 79.18,107.75 79.21,108.34 79.23,108.90 79.26,109.45 79.28,109.97 79.30,110.46 79.33,110.94 79.36,111.38 79.39,111.81 79.43,112.20 79.47,112.57 79.52,112.90 79.58,113.20 79.66,113.47 79.76,113.70 79.89,113.89 80.05,114.03 80.17,114.10" fill="#200000" stroke="#200000" stroke-width="0.62" stroke-linejoin="round"/>
<polygon points="81.56,114.10 81.65,114.07 81.79,114.00 81.93,113.90 82.05,113.79 82.15,113.66 82.24,113.51 82.31,113.34 82.38,113.16 82.44,112.96 82.49,112.75 82.53,112.53 82.58,112.30 82.62,112.05 82.66,111.79 82.70,111.52 82.74,111.24 82.79,110.95 82.90,110.65 82.90,110.65 83.01,110.95 83.06,111.24 83.10,111.52 83.14,111.79 83.18,112.05 83.22,112.30 83.27,112.53 83.31,112.75 83.36,112.96 83.42,113.16 83.49,113.34 83.56,113.51 83.65,113.66 83.75,113.79 83.87,113.90 84.01,114.00 84.15,114.07 84.24,114.10" fill="#e60000" stroke="#e60000" stroke-width="0.9" stroke-linejoin="round" opacity="0.85"/>
<polygon points="82.32,114.10 82.36,114.07 82.43,114.01 82.50,113.92 82.56,113.82 82.61,113.70 82.66,113.57 82.70,113.42 82.73,113.26 82.76,113.08 82.79,112.90 82.82,112.70 82.84,112.49 82.86,112.27 82.89,112.04 82.91,111.80 82.93,111.55 82.96,111.29 83.02,111.02 83.02,111.02 83.08,111.29 83.11,111.55 83.13,111.80 83.15,112.04 83.18,112.27 83.20,112.49 83.22,112.70 83.25,112.90 83.28,113.08 83.31,113.26 83.34,113.42 83.38,113.57 83.43,113.70 83.48,113.82 83.54,113.92 83.61,114.01 83.68,114.07 83.72,114.10" fill="#200000" stroke="#200000" stroke-width="0.62" stroke-linejoin="round"/>
<polygon points="96.33,114.10 96.39,114.07 96.49,114.02 96.60,113.95 96.70,113.86 96.79,113.76 96.87,113.64 96.93,113.52 96.99,113.38 97.05,113.23 97.10,113.07 97.14,112.89 97.18,112.71 97.22,112.53 97.26,112.33 97.30,112.12 97.34,111.91 97.39,111.68 97.50,111.45 97.50,111.45 97.61,111.68 97.66,111.91 97.70,112.12 97.74,112.33 97.78,112.53 97.82,112.71 97.86,112.89 97.90,113.07 97.95,113.23 98.01,113.38 98.07,113.52 98.13,113.64 98.21,113.76 98.30,113.86 98.40,113.95 98.51,114.02 98.61,114.07 98.67,114.10" fill="#e60000" stroke="#e60000" stroke-width="0.9" stroke-linejoin="round" opacity="0.85"/>
<polygon points="97.01,114.10 97.04,114.08 97.09,114.03 97.14,113.97 97.19,113.89 97.23,113.80 97.28,113.69 97.31,113.58 97.34,113.46 97.37,113.32 97.40,113.18 97.42,113.03 97.45,112.87 97.47,112.70 97.49,112.52 97.51,112.34 97.53,112.15 97.56,111.95 97.62,111.74 97.62,111.74 97.68,111.95 97.71,112.15 97.73,112.34 97.75,112.52 97.77,112.70 97.79,112.87 97.82,113.03 97.84,113.18 97.87,113.32 97.90,113.46 97.93,113.58 97.96,113.69 98.01,113.80 98.05,113.89 98.10,113.97 98.15,114.03 98.20,114.08 98.23,114.10" fill="#200000" stroke="#200000" stroke-width="0.62" stroke-linejoin="round"/>
<polygon points="135.70,114.10 135.70,113.94 136.25,113.63 136.92,113.19 137.36,112.66 137.68,112.05 137.92,111.35 138.10,110.58 138.25,109.74 138.38,108.84 138.49,107.87 138.59,106.85 138.68,105.76 138.76,104.62 138.84,103.43 138.92,102.19 139.00,100.89 139.10,99.54 139.30,98.15 139.30,98.15 139.50,99.54 139.60,100.89 139.68,102.19 139.76,103.43 139.84,104.62 139.92,105.76 140.01,106.85 140.11,107.87 140.22,108.84 140.35,109.74 140.50,110.58 140.68,111.35 140.92,112.05 141.24,112.66 141.68,113.19 142.35,113.63 142.90,113.94 142.90,114.10" fill="#e60000" stroke="#e60000" stroke-width="1.0" stroke-linejoin="round" opacity="0.85"/>
<polygon points="138.30,114.10 138.44,114.02 138.63,113.87 138.77,113.65 138.87,113.39 138.95,113.09 139.02,112.75 139.07,112.37 139.11,111.96 139.15,111.51 139.18,111.03 139.21,110.53 139.23,110.00 139.26,109.44 139.28,108.85 139.31,108.24 139.33,107.60 139.36,106.94 139.42,106.25 139.42,106.25 139.48,106.94 139.51,107.60 139.53,108.24 139.56,108.85 139.58,109.44 139.61,110.00 139.63,110.53 139.66,111.03 139.69,111.51 139.73,111.96 139.77,112.37 139.82,112.75 139.89,113.09 139.97,113.39 140.07,113.65 140.21,113.87 140.40,114.02 140.54,114.10" fill="#200000" stroke="#200000" stroke-width="0.62" stroke-linejoin="round"/>
<polygon points="157.10,114.10 157.10,113.33 158.29,111.78 159.00,109.66 159.40,107.07 159.67,104.05 159.86,100.64 160.00,96.88 160.12,92.78 160.22,88.35 160.30,83.63 160.38,78.61 160.44,73.30 160.50,67.73 160.56,61.89 160.62,55.80 160.68,49.46 160.75,42.87 160.90,36.05 160.90,36.05 161.05,42.87 161.12,49.46 161.18,55.80 161.24,61.89 161.30,67.73 161.36,73.30 161.42,78.61 161.50,83.63 161.58,88.35 161.68,92.78 161.80,96.88 161.94,100.64 162.13,104.05 162.40,107.07 162.80,109.66 163.51,111.78 164.70,113.33 164.70,114.10" fill="#e00000" fill-opacity="0.6" stroke="#e00000" stroke-width="0.8" stroke-linejoin="round" opacity="0.95"/>
<g fill="#ee0000"><rect x="159.70" y="110.30" width="1.4" height="1.4"/><rect x="159.70" y="108.20" width="1.4" height="1.4"/><rect x="160.70" y="108.05" width="1.4" height="1.4"/><rect x="159.70" y="106.43" width="1.4" height="1.4"/><rect x="159.70" y="104.67" width="1.4" height="1.4"/><rect x="160.70" y="102.97" width="1.4" height="1.4"/><rect x="160.70" y="101.37" width="1.4" height="1.4"/><rect x="159.70" y="97.59" width="1.4" height="1.4"/><rect x="160.70" y="95.59" width="1.4" height="1.4"/><rect x="159.70" y="91.45" width="1.4" height="1.4"/><rect x="160.70" y="84.50" width="1.4" height="1.4"/><rect x="160.70" y="82.18" width="1.4" height="1.4"/><rect x="160.70" y="80.06" width="1.4" height="1.4"/><rect x="159.70" y="77.44" width="1.4" height="1.4"/><rect x="159.70" y="75.06" width="1.4" height="1.4"/><rect x="160.70" y="72.25" width="1.4" height="1.4"/><rect x="159.70" y="69.74" width="1.4" height="1.4"/><rect x="160.70" y="66.61" width="1.4" height="1.4"/><rect x="159.70" y="64.34" width="1.4" height="1.4"/><rect x="159.70" y="61.30" width="1.4" height="1.4"/><rect x="159.70" y="51.88" width="1.4" height="1.4"/><rect x="160.70" y="51.72" width="1.4" height="1.4"/><rect x="159.70" y="48.81" width="1.4" height="1.4"/><rect x="159.70" y="42.42" width="1.4" height="1.4"/><rect x="160.70" y="41.92" width="1.4" height="1.4"/></g>
<rect x="160.25" y="36.05" width="1.3" height="11.40" fill="#e80000"/>
<rect x="160.45" y="45.45" width="0.8" height="52.90" fill="#161616"/>
<rect x="160.70" y="97.85" width="0.7" height="15.5" fill="#400000"/>
<rect x="38.8" y="113.55" width="171.90" height="0.9" fill="#d40000"/>
<rect x="39.3" y="114.15" width="170.90" height="1.0" fill="#560000"/>
<rect x="188" y="112.65" width="1.3" height="0.7" fill="#e00000" opacity="0.7"/>
<rect x="193" y="112.65" width="1.3" height="0.7" fill="#e00000" opacity="0.7"/>
<rect x="197" y="112.65" width="1.3" height="0.7" fill="#e00000" opacity="0.7"/>
<rect x="200.5" y="112.65" width="1.3" height="0.7" fill="#e00000" opacity="0.7"/>
<rect x="203" y="112.65" width="1.3" height="0.7" fill="#e00000" opacity="0.7"/>
<rect x="205.5" y="112.65" width="1.3" height="0.7" fill="#e00000" opacity="0.7"/>
<rect x="35.85" y="118.2" width="1.1" height="4.3" fill="#2fa52f" opacity="0.7"/>
<rect x="37.65" y="118.2" width="1.1" height="4.3" fill="#2fa52f" opacity="0.7"/>
<rect x="39.05" y="118.2" width="1.1" height="4.3" fill="#2fa52f" opacity="0.7"/>
<rect x="41.15" y="118.2" width="1.1" height="4.3" fill="#2fa52f" opacity="0.7"/>
<rect x="43.65" y="118.2" width="1.1" height="4.3" fill="#2fa52f" opacity="0.7"/>
<rect x="45.25" y="118.2" width="1.1" height="4.3" fill="#2fa52f" opacity="0.7"/>
<rect x="46.75" y="118.2" width="1.1" height="4.3" fill="#2fa52f" opacity="0.7"/>
<rect x="50.85" y="118.2" width="1.1" height="4.3" fill="#2fa52f" opacity="0.7"/>
<rect x="53.95" y="118.2" width="1.1" height="4.3" fill="#2fa52f" opacity="0.7"/>
<rect x="60.05" y="118.2" width="1.1" height="4.3" fill="#2fa52f" opacity="0.7"/>
<rect x="61.95" y="118.2" width="1.1" height="4.3" fill="#2fa52f" opacity="0.7"/>
<rect x="67.45" y="118.2" width="1.1" height="4.3" fill="#2fa52f" opacity="0.7"/>
<rect x="78.25" y="118.2" width="1.1" height="4.3" fill="#2fa52f" opacity="0.7"/>
<rect x="82.25" y="118.2" width="1.1" height="4.3" fill="#2fa52f" opacity="0.7"/>
<rect x="96.95" y="118.2" width="1.1" height="4.3" fill="#2fa52f" opacity="0.7"/>
<rect x="138.75" y="118.2" width="1.1" height="4.3" fill="#2fa52f" opacity="0.7"/>
<rect x="160.25" y="118.2" width="1.1" height="4.3" fill="#2fa52f" opacity="0.7"/>
<path d="M38.8,134.50 L39.6,134.03 L40.4,134.96 L41.2,134.91 L42.0,134.36 L42.8,134.60 L43.6,134.06 L44.4,134.07 L45.2,134.15 L46.0,134.63 L46.8,134.05 L47.6,134.97 L48.4,133.88 L49.2,134.03 L50.0,133.91 L50.8,134.72 L51.6,134.24 L52.4,134.37 L53.2,134.19 L54.0,134.56 L54.8,134.28 L55.6,134.05 L56.4,134.32 L57.2,134.17 L58.0,133.93 L58.8,134.79 L59.6,134.62 L60.4,134.60 L61.2,134.86 L62.0,134.27 L62.8,134.26 L63.6,134.31 L64.4,134.29 L65.2,134.60 L66.0,133.81 L66.8,134.36 L67.6,134.44 L68.4,134.21 L69.2,133.83 L70.0,134.65 L70.8,133.81 L71.6,134.48 L72.4,133.98 L73.2,133.84 L74.0,134.02 L74.8,133.88 L75.6,133.98 L76.4,134.62 L77.2,134.67 L78.0,134.24 L78.8,134.58 L79.6,134.37 L80.4,134.40 L81.2,134.85 L82.0,134.17 L82.8,134.84 L83.6,134.63 L84.4,134.62 L85.2,133.81 L86.0,133.90 L86.8,133.84 L87.6,134.21 L88.4,134.94 L89.2,134.85 L90.0,134.81 L90.8,133.94 L91.6,134.65 L92.4,134.73 L93.2,134.77 L94.0,134.75 L94.8,133.97 L95.6,134.01 L96.4,134.75 L97.2,134.69 L98.0,134.87 L98.8,134.34 L99.6,134.87 L100.4,133.97 L101.2,134.95 L102.0,134.86 L102.8,134.21 L103.6,133.88 L104.4,134.46 L105.2,134.63 L106.0,134.22 L106.8,133.87 L107.6,134.13 L108.4,134.79 L109.2,133.91 L110.0,134.92 L110.8,134.10 L111.6,134.05 L112.4,133.93 L113.2,134.98 L114.0,134.88 L114.8,134.18 L115.6,133.91 L116.4,134.58 L117.2,134.87 L118.0,133.81 L118.8,134.56 L119.6,134.83 L120.4,134.35 L121.2,134.48 L122.0,134.77 L122.8,134.09 L123.6,134.13 L124.4,134.59 L125.2,134.46 L126.0,134.44 L126.8,134.20 L127.6,134.92 L128.4,134.15 L129.2,134.61 L130.0,134.87 L130.8,134.28 L131.6,133.87 L132.4,134.06 L133.2,133.88 L134.0,133.98 L134.8,133.94 L135.6,134.21 L136.4,134.24 L137.2,134.34 L138.0,134.60 L138.8,134.61 L139.6,134.62 L140.4,134.24 L141.2,134.60 L142.0,134.46 L142.8,133.95 L143.6,134.46 L144.4,134.18 L145.2,134.61 L146.0,134.68 L146.8,134.09 L147.6,134.32 L148.4,134.35 L149.2,134.16 L150.0,133.85 L150.8,133.86 L151.6,134.99 L152.4,134.69 L153.2,134.33 L154.0,134.60 L154.8,134.12 L155.6,134.65 L156.4,134.94 L157.2,134.73 L158.0,134.36 L158.8,134.98 L159.6,134.91 L160.4,133.87 L161.2,134.29 L162.0,134.34 L162.8,134.13 L163.6,134.54 L164.4,133.97" fill="none" stroke="#4a4aff" stroke-width="0.85" stroke-dasharray="1.0 0.7" opacity="0.68"/>
<path d="M78.30,134.4 L79.00,129.60 L79.55,134.4 L80.20,135.90 L80.90,134.4 M82.30,134.4 L83.00,133.40 L83.55,134.4 L84.20,135.90 L84.90,134.4 M138.60,134.4 L139.30,120.40 L139.85,134.4 L140.50,136.40 L141.20,134.4 M160.10,134.4 L160.80,131.40 L161.35,134.4 L162.00,135.90 L162.70,134.4" fill="none" stroke="#4a4aff" stroke-width="0.65" opacity="0.72" stroke-dasharray="1.3 0.6" stroke-linejoin="round"/>
<path d="M165,134.4 H185" stroke="#4a4aff" stroke-width="0.95" stroke-dasharray="1.2 1.0" opacity="0.75" fill="none"/>
<path d="M185,134.4 H211.2" stroke="#4a4aff" stroke-width="1" stroke-dasharray="3 2.3" opacity="0.8" fill="none"/>
</g>
<rect x="31.55" y="4.35" width="186.00" height="138.05" fill="none" stroke="#6a6a6a" stroke-width="1"/>
<path d="M31.55,137.10h2.6 M31.55,126.00h1.4 M31.55,114.90h2.6 M31.55,103.80h1.4 M31.55,92.70h2.6 M31.55,81.60h1.4 M31.55,70.50h2.6 M31.55,59.40h1.4 M31.55,48.30h2.6 M31.55,37.20h1.4 M31.55,26.10h2.6 M31.55,15.00h1.4 M43.50,142.4v-2.6 M55.36,142.4v-1.4 M67.22,142.4v-2.6 M79.07,142.4v-1.4 M90.93,142.4v-2.6 M102.79,142.4v-1.4 M114.64,142.4v-2.6 M126.50,142.4v-1.4 M138.36,142.4v-2.6 M150.22,142.4v-1.4 M162.07,142.4v-2.6 M173.93,142.4v-1.4 M185.79,142.4v-2.6 M197.65,142.4v-1.4 M209.50,142.4v-2.6" stroke="#3a3a3a" stroke-width="0.9" fill="none"/>
<text x="28.6" y="140.45" text-anchor="end" class="t" font-size="10.0" stroke="#000">-20</text>
<text x="28.6" y="118.25" text-anchor="end" class="t" font-size="10.0" stroke="#000">0</text>
<text x="28.6" y="96.05" text-anchor="end" class="t" font-size="10.0" stroke="#000">20</text>
<text x="28.6" y="73.85" text-anchor="end" class="t" font-size="10.0" stroke="#000">40</text>
<text x="28.6" y="51.65" text-anchor="end" class="t" font-size="10.0" stroke="#000">60</text>
<text x="28.6" y="29.45" text-anchor="end" class="t" font-size="10.0" stroke="#000">80</text>
<text x="28.6" y="8.05" text-anchor="end" class="t" font-size="10.0" stroke="#000">100</text>
<text x="43.60" y="153.6" text-anchor="middle" class="t" font-size="10.15" stroke="#000">0.6</text>
<text x="67.31" y="153.6" text-anchor="middle" class="t" font-size="10.15" stroke="#000">0.9</text>
<text x="91.03" y="153.6" text-anchor="middle" class="t" font-size="10.15" stroke="#000">1.2</text>
<text x="114.74" y="153.6" text-anchor="middle" class="t" font-size="10.15" stroke="#000">1.5</text>
<text x="138.46" y="153.6" text-anchor="middle" class="t" font-size="10.15" stroke="#000">1.8</text>
<text x="162.17" y="153.6" text-anchor="middle" class="t" font-size="10.15" stroke="#000">2.1</text>
<text x="185.89" y="153.6" text-anchor="middle" class="t" font-size="10.15" stroke="#000">2.4</text>
<text x="209.60" y="153.6" text-anchor="middle" class="t" font-size="10.15" stroke="#000">2.7</text>
<text x="124.5" y="169.2" text-anchor="middle" class="t" font-size="10.05" stroke="#000">d-spacing (<tspan font-weight="normal" font-size="8.2" fill="#333" stroke="#333" stroke-width="0.15" textLength="4.3" lengthAdjust="spacingAndGlyphs" dx="0.2">A</tspan><tspan dx="0.2">)</tspan></text>
<text transform="translate(9.4,72.9) rotate(-90)" text-anchor="middle" class="t" font-size="10.3" stroke="#000">Intensity (a.u.)</text>
<text x="38.70" y="22.0" font-family="Liberation Serif, serif" font-weight="bold" font-size="18.9">e</text>
<text x="68.4" y="25.25" class="t" font-size="10.2" fill="#ff0000" stroke="#ff0000">Neutron profile</text>
<text x="68.4" y="37.5" class="t" font-size="10.2" fill="#000" stroke="#000">Fitted profile</text>
<text x="68.4" y="49.85" class="t" font-size="10.2" fill="#0000ff" stroke="#0000ff">Residual</text>
<text x="68.4" y="62.25" class="t" font-size="10.2" fill="#0a960a" stroke="#0a960a">Bragg_position</text>
<rect x="57.1" y="22.0" width="1.6" height="1.6" fill="#ff0000"/>
<path d="M50.1,35.7 H65.4" stroke="#2a2a2a" stroke-width="0.8"/>
<path d="M50.1,47.7 H65.4" stroke="#7a7aff" stroke-width="0.95" stroke-dasharray="3.3 2.2" opacity="0.9"/>
<rect x="57.5" y="58" width="1" height="4.8" fill="#7cc47c" opacity="0.8"/>
</g>
</svg>
</body></html>
